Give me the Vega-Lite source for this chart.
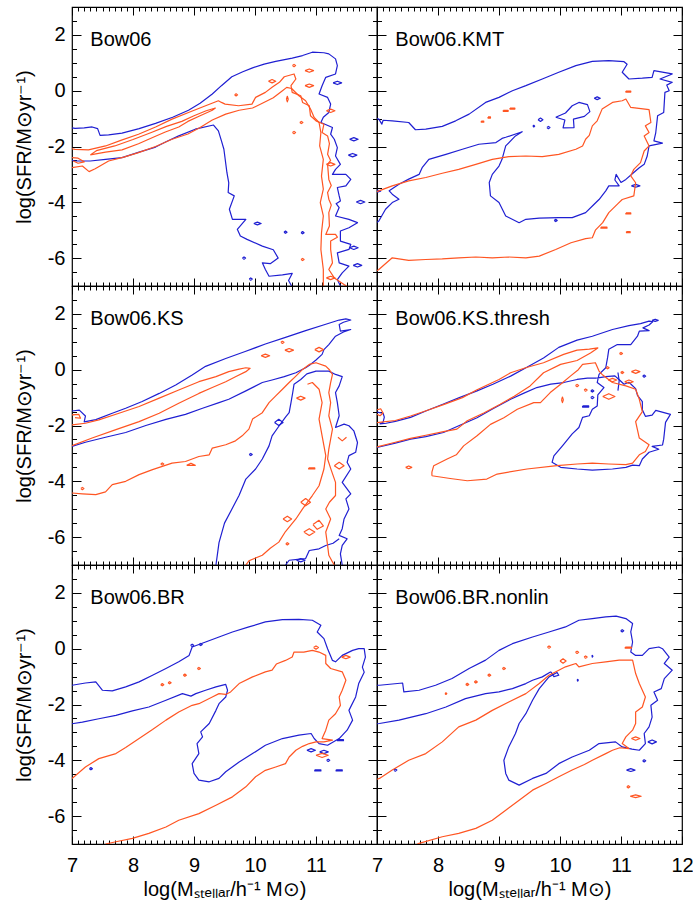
{
"$schema": "https://vega.github.io/schema/vega-lite/v6.json",
"padding": {"left": 13, "top": 5, "right": 0, "bottom": 0},
"columns": 2,
"spacing": 0,
"bounds": "flush",
"config": {
  "view": {"stroke": "#000", "strokeWidth": 1.2},
  "axis": {"grid": false, "domain": false, "ticks": true, "tickColor": "#000", "tickWidth": 1, "labelFont": "Liberation Sans", "labelFontSize": 20, "labelColor": "#000", "labelFlush": false, "titleFont": "Liberation Sans", "titleFontSize": 20, "titleFontWeight": "normal", "titleColor": "#000"}
},
"datasets": {
"p1b": [
{"s":1,"x":7.0,"y":-1.33},{"s":1,"x":7.05,"y":-1.35},{"s":1,"x":7.2,"y":-1.33},{"s":1,"x":7.33,"y":-1.3},{"s":1,"x":7.42,"y":-1.36},{"s":1,"x":7.46,"y":-1.6},{"s":1,"x":7.6,"y":-1.58},{"s":1,"x":7.82,"y":-1.52},{"s":1,"x":8.1,"y":-1.36},{"s":1,"x":8.37,"y":-1.17},{"s":1,"x":8.65,"y":-0.95},{"s":1,"x":8.91,"y":-0.7},{"s":1,"x":9.1,"y":-0.45},{"s":1,"x":9.3,"y":-0.12},{"s":1,"x":9.45,"y":0.18},{"s":1,"x":9.62,"y":0.5},{"s":1,"x":9.8,"y":0.68},{"s":1,"x":9.96,"y":0.82},{"s":1,"x":10.15,"y":0.95},{"s":1,"x":10.34,"y":1.05},{"s":1,"x":10.61,"y":1.17},{"s":1,"x":10.78,"y":1.26},{"s":1,"x":10.94,"y":1.38},{"s":1,"x":11.13,"y":1.36},{"s":1,"x":11.21,"y":1.32},{"s":1,"x":11.32,"y":1.14},{"s":1,"x":11.35,"y":0.9},{"s":1,"x":11.32,"y":0.6},{"s":1,"x":11.16,"y":0.48},{"s":1,"x":11.1,"y":0.18},{"s":1,"x":11.05,"y":-0.12},{"s":1,"x":11.19,"y":-0.24},{"s":1,"x":11.24,"y":-0.48},{"s":1,"x":11.21,"y":-0.78},{"s":1,"x":11.12,"y":-0.95},{"s":1,"x":11.08,"y":-1.14},{"s":1,"x":11.27,"y":-1.32},{"s":1,"x":11.24,"y":-1.56},{"s":1,"x":11.3,"y":-1.74},{"s":1,"x":11.35,"y":-2.04},{"s":1,"x":11.32,"y":-2.34},{"s":1,"x":11.4,"y":-2.64},{"s":1,"x":11.32,"y":-2.82},{"s":1,"x":11.27,"y":-3.0},{"s":1,"x":11.49,"y":-3.0},{"s":1,"x":11.57,"y":-3.18},{"s":1,"x":11.49,"y":-3.41},{"s":1,"x":11.35,"y":-3.47},{"s":1,"x":11.38,"y":-3.77},{"s":1,"x":11.4,"y":-3.95},{"s":1,"x":11.33,"y":-4.05},{"s":1,"x":11.38,"y":-4.19},{"s":1,"x":11.32,"y":-4.49},{"s":1,"x":11.54,"y":-4.61},{"s":1,"x":11.68,"y":-4.73},{"s":1,"x":11.54,"y":-4.91},{"s":1,"x":11.4,"y":-5.03},{"s":1,"x":11.4,"y":-5.39},{"s":1,"x":11.57,"y":-5.51},{"s":1,"x":11.54,"y":-5.69},{"s":1,"x":11.35,"y":-5.81},{"s":1,"x":11.38,"y":-6.17},{"s":1,"x":11.54,"y":-6.29},{"s":1,"x":11.43,"y":-6.53},{"s":1,"x":11.35,"y":-6.77},{"s":1,"x":11.4,"y":-7.0},
{"s":2,"x":7.0,"y":-2.5},{"s":2,"x":7.05,"y":-2.52},{"s":2,"x":7.3,"y":-2.52},{"s":2,"x":7.55,"y":-2.46},{"s":2,"x":7.82,"y":-2.4},{"s":2,"x":8.1,"y":-2.2},{"s":2,"x":8.37,"y":-2.02},{"s":2,"x":8.55,"y":-1.82},{"s":2,"x":8.75,"y":-1.62},{"s":2,"x":9.02,"y":-1.38},{"s":2,"x":9.32,"y":-1.23},{"s":2,"x":9.4,"y":-1.44},{"s":2,"x":9.45,"y":-1.8},{"s":2,"x":9.49,"y":-2.1},{"s":2,"x":9.54,"y":-2.94},{"s":2,"x":9.57,"y":-3.3},{"s":2,"x":9.56,"y":-3.65},{"s":2,"x":9.66,"y":-3.77},{"s":2,"x":9.58,"y":-4.25},{"s":2,"x":9.63,"y":-4.61},{"s":2,"x":9.85,"y":-4.61},{"s":2,"x":9.71,"y":-4.97},{"s":2,"x":9.76,"y":-5.21},{"s":2,"x":9.87,"y":-5.33},{"s":2,"x":10.12,"y":-5.57},{"s":2,"x":10.3,"y":-5.7},{"s":2,"x":10.38,"y":-6.0},{"s":2,"x":10.25,"y":-6.2},{"s":2,"x":10.12,"y":-6.17},{"s":2,"x":10.17,"y":-6.41},{"s":2,"x":10.23,"y":-6.65},{"s":2,"x":10.45,"y":-6.6},{"s":2,"x":10.61,"y":-6.55},{"s":2,"x":10.55,"y":-6.8},{"s":2,"x":10.6,"y":-7.0},
{"s":3,"x":9.98,"y":-4.76},{"s":3,"x":10.04,"y":-4.71},{"s":3,"x":10.1,"y":-4.76},{"s":3,"x":10.04,"y":-4.81},{"s":3,"x":9.98,"y":-4.76},
{"s":4,"x":10.475,"y":-5.07},{"s":4,"x":10.5,"y":-5.03},{"s":4,"x":10.525,"y":-5.07},{"s":4,"x":10.5,"y":-5.11},{"s":4,"x":10.475,"y":-5.07},
{"s":5,"x":10.755,"y":-5.09},{"s":5,"x":10.78,"y":-5.05},{"s":5,"x":10.805,"y":-5.09},{"s":5,"x":10.78,"y":-5.13},{"s":5,"x":10.755,"y":-5.09},
{"s":6,"x":9.795,"y":-6.0},{"s":6,"x":9.82,"y":-5.96},{"s":6,"x":9.845,"y":-6.0},{"s":6,"x":9.82,"y":-6.04},{"s":6,"x":9.795,"y":-6.0},
{"s":7,"x":9.905,"y":-6.75},{"s":7,"x":9.93,"y":-6.71},{"s":7,"x":9.955,"y":-6.75},{"s":7,"x":9.93,"y":-6.79},{"s":7,"x":9.905,"y":-6.75},
{"s":8,"x":11.28,"y":0.28},{"s":8,"x":11.35,"y":0.34},{"s":8,"x":11.42,"y":0.28},{"s":8,"x":11.35,"y":0.22},{"s":8,"x":11.28,"y":0.28},
{"s":9,"x":11.55,"y":-1.74},{"s":9,"x":11.62,"y":-1.68},{"s":9,"x":11.69,"y":-1.74},{"s":9,"x":11.62,"y":-1.8},{"s":9,"x":11.55,"y":-1.74},
{"s":10,"x":11.53,"y":-2.31},{"s":10,"x":11.6,"y":-2.25},{"s":10,"x":11.67,"y":-2.31},{"s":10,"x":11.6,"y":-2.37},{"s":10,"x":11.53,"y":-2.31},
{"s":11,"x":11.66,"y":-3.99},{"s":11,"x":11.73,"y":-3.93},{"s":11,"x":11.8,"y":-3.99},{"s":11,"x":11.73,"y":-4.05},{"s":11,"x":11.66,"y":-3.99},
{"s":12,"x":11.55,"y":-5.63},{"s":12,"x":11.62,"y":-5.57},{"s":12,"x":11.69,"y":-5.63},{"s":12,"x":11.62,"y":-5.69},{"s":12,"x":11.55,"y":-5.63},
{"s":13,"x":11.61,"y":-6.26},{"s":13,"x":11.68,"y":-6.2},{"s":13,"x":11.75,"y":-6.26},{"s":13,"x":11.68,"y":-6.32},{"s":13,"x":11.61,"y":-6.26}
],
"p1o": [
{"s":1,"x":7.0,"y":-2.08},{"s":1,"x":7.05,"y":-2.1},{"s":1,"x":7.27,"y":-2.12},{"s":1,"x":7.55,"y":-1.98},{"s":1,"x":7.8,"y":-1.78},{"s":1,"x":8.09,"y":-1.56},{"s":1,"x":8.37,"y":-1.3},{"s":1,"x":8.64,"y":-1.02},{"s":1,"x":8.91,"y":-0.78},{"s":1,"x":9.19,"y":-0.54},{"s":1,"x":9.4,"y":-0.36},{"s":1,"x":9.45,"y":-0.42},{"s":1,"x":9.51,"y":-0.48},{"s":1,"x":9.73,"y":-0.54},{"s":1,"x":9.95,"y":-0.48},{"s":1,"x":10.01,"y":-0.24},{"s":1,"x":10.17,"y":-0.06},{"s":1,"x":10.28,"y":0.12},{"s":1,"x":10.4,"y":0.3},{"s":1,"x":10.48,"y":0.5},{"s":1,"x":10.64,"y":0.6},{"s":1,"x":10.67,"y":0.42},{"s":1,"x":10.59,"y":0.18},{"s":1,"x":10.61,"y":-0.06},{"s":1,"x":10.75,"y":-0.18},{"s":1,"x":10.78,"y":-0.42},{"s":1,"x":10.89,"y":-0.54},{"s":1,"x":10.91,"y":-0.9},{"s":1,"x":11.0,"y":-1.08},{"s":1,"x":11.13,"y":-1.2},{"s":1,"x":11.1,"y":-1.5},{"s":1,"x":11.19,"y":-1.62},{"s":1,"x":11.22,"y":-1.9},{"s":1,"x":11.19,"y":-2.28},{"s":1,"x":11.24,"y":-2.5},{"s":1,"x":11.19,"y":-2.64},{"s":1,"x":11.21,"y":-3.18},{"s":1,"x":11.25,"y":-3.4},{"s":1,"x":11.19,"y":-3.65},{"s":1,"x":11.21,"y":-3.89},{"s":1,"x":11.25,"y":-4.1},{"s":1,"x":11.21,"y":-4.37},{"s":1,"x":11.22,"y":-4.85},{"s":1,"x":11.16,"y":-5.15},{"s":1,"x":11.32,"y":-5.15},{"s":1,"x":11.35,"y":-5.25},{"s":1,"x":11.24,"y":-5.39},{"s":1,"x":11.24,"y":-5.69},{"s":1,"x":11.27,"y":-6.17},{"s":1,"x":11.21,"y":-6.41},{"s":1,"x":11.3,"y":-6.71},{"s":1,"x":11.46,"y":-6.95},{"s":1,"x":11.5,"y":-7.0},
{"s":2,"x":7.0,"y":-2.76},{"s":2,"x":7.17,"y":-2.7},{"s":2,"x":7.28,"y":-2.9},{"s":2,"x":7.38,"y":-2.8},{"s":2,"x":7.6,"y":-2.52},{"s":2,"x":7.85,"y":-2.38},{"s":2,"x":8.09,"y":-2.22},{"s":2,"x":8.37,"y":-2.0},{"s":2,"x":8.64,"y":-1.74},{"s":2,"x":8.9,"y":-1.55},{"s":2,"x":9.1,"y":-1.32},{"s":2,"x":9.3,"y":-1.05},{"s":2,"x":9.52,"y":-0.84},{"s":2,"x":9.74,"y":-0.7},{"s":2,"x":9.96,"y":-0.62},{"s":2,"x":10.12,"y":-0.45},{"s":2,"x":10.3,"y":-0.25},{"s":2,"x":10.45,"y":0.0},{"s":2,"x":10.52,"y":0.12},{"s":2,"x":10.6,"y":0.08},{"s":2,"x":10.72,"y":-0.18},{"s":2,"x":10.83,"y":-0.36},{"s":2,"x":10.91,"y":-0.66},{"s":2,"x":10.97,"y":-0.96},{"s":2,"x":11.05,"y":-1.14},{"s":2,"x":11.08,"y":-1.5},{"s":2,"x":11.06,"y":-1.98},{"s":2,"x":11.12,"y":-2.46},{"s":2,"x":11.09,"y":-3.06},{"s":2,"x":11.12,"y":-3.53},{"s":2,"x":11.07,"y":-4.01},{"s":2,"x":11.12,"y":-4.49},{"s":2,"x":11.09,"y":-5.09},{"s":2,"x":11.08,"y":-5.69},{"s":2,"x":11.12,"y":-6.41},{"s":2,"x":11.12,"y":-7.0},
{"s":3,"x":7.3,"y":-2.3},{"s":3,"x":7.55,"y":-2.2},{"s":3,"x":7.82,"y":-2.12},{"s":3,"x":8.09,"y":-1.9},{"s":3,"x":8.35,"y":-1.65},{"s":3,"x":8.53,"y":-1.48},{"s":3,"x":8.75,"y":-1.3},{"s":3,"x":8.9,"y":-1.1},{"s":3,"x":9.1,"y":-0.9},{"s":3,"x":9.3,"y":-0.7},{"s":3,"x":9.35,"y":-0.62},{"s":3,"x":9.2,"y":-0.72},{"s":3,"x":9.0,"y":-0.9},{"s":3,"x":8.8,"y":-1.1},{"s":3,"x":8.55,"y":-1.28},{"s":3,"x":8.3,"y":-1.5},{"s":3,"x":8.0,"y":-1.75},{"s":3,"x":7.7,"y":-1.98},{"s":3,"x":7.4,"y":-2.15},{"s":3,"x":7.3,"y":-2.3},
{"s":4,"x":7.0,"y":-2.4},{"s":4,"x":7.1,"y":-2.42},{"s":4,"x":7.2,"y":-2.55},{"s":4,"x":7.1,"y":-2.6},{"s":4,"x":7.02,"y":-2.52},
{"s":5,"x":10.615,"y":0.9},{"s":5,"x":10.64,"y":0.94},{"s":5,"x":10.665,"y":0.9},{"s":5,"x":10.64,"y":0.86},{"s":5,"x":10.615,"y":0.9},
{"s":6,"x":10.82,"y":0.72},{"s":6,"x":10.89,"y":0.78},{"s":6,"x":10.96,"y":0.72},{"s":6,"x":10.89,"y":0.66},{"s":6,"x":10.82,"y":0.72},
{"s":7,"x":10.82,"y":0.18},{"s":7,"x":10.89,"y":0.24},{"s":7,"x":10.96,"y":0.18},{"s":7,"x":10.89,"y":0.12},{"s":7,"x":10.82,"y":0.18},
{"s":8,"x":10.22,"y":0.34},{"s":8,"x":10.28,"y":0.4},{"s":8,"x":10.34,"y":0.34},{"s":8,"x":10.28,"y":0.28},{"s":8,"x":10.22,"y":0.34},
{"s":9,"x":10.515,"y":-0.3},{"s":9,"x":10.53,"y":-0.2},{"s":9,"x":10.545,"y":-0.3},{"s":9,"x":10.53,"y":-0.4},{"s":9,"x":10.515,"y":-0.3},
{"s":10,"x":10.735,"y":-1.14},{"s":10,"x":10.76,"y":-1.1},{"s":10,"x":10.785,"y":-1.14},{"s":10,"x":10.76,"y":-1.18},{"s":10,"x":10.735,"y":-1.14},
{"s":11,"x":10.615,"y":-1.5},{"s":11,"x":10.64,"y":-1.46},{"s":11,"x":10.665,"y":-1.5},{"s":11,"x":10.64,"y":-1.54},{"s":11,"x":10.615,"y":-1.5},
{"s":12,"x":11.17,"y":-0.72},{"s":12,"x":11.24,"y":-0.66},{"s":12,"x":11.31,"y":-0.72},{"s":12,"x":11.24,"y":-0.78},{"s":12,"x":11.17,"y":-0.72},
{"s":13,"x":11.17,"y":-2.64},{"s":13,"x":11.24,"y":-2.58},{"s":13,"x":11.31,"y":-2.64},{"s":13,"x":11.24,"y":-2.7},{"s":13,"x":11.17,"y":-2.64},
{"s":14,"x":11.17,"y":-6.71},{"s":14,"x":11.24,"y":-6.65},{"s":14,"x":11.31,"y":-6.71},{"s":14,"x":11.24,"y":-6.77},{"s":14,"x":11.17,"y":-6.71},
{"s":15,"x":10.755,"y":-6.05},{"s":15,"x":10.78,"y":-6.01},{"s":15,"x":10.805,"y":-6.05},{"s":15,"x":10.78,"y":-6.09},{"s":15,"x":10.755,"y":-6.05},
{"s":16,"x":9.665,"y":-0.15},{"s":16,"x":9.69,"y":-0.11},{"s":16,"x":9.715,"y":-0.15},{"s":16,"x":9.69,"y":-0.19},{"s":16,"x":9.665,"y":-0.15}
],
"p2b": [
{"s":1,"x":7.0,"y":-1.0},{"s":1,"x":7.03,"y":-1.02},{"s":1,"x":7.08,"y":-1.2},{"s":1,"x":7.1,"y":-1.06},{"s":1,"x":7.25,"y":-1.08},{"s":1,"x":7.52,"y":-1.14},{"s":1,"x":7.63,"y":-1.4},{"s":1,"x":7.8,"y":-1.38},{"s":1,"x":8.07,"y":-1.28},{"s":1,"x":8.29,"y":-1.08},{"s":1,"x":8.51,"y":-0.84},{"s":1,"x":8.78,"y":-0.42},{"s":1,"x":9.0,"y":-0.24},{"s":1,"x":9.22,"y":0.0},{"s":1,"x":9.44,"y":0.18},{"s":1,"x":9.71,"y":0.42},{"s":1,"x":9.98,"y":0.66},{"s":1,"x":10.26,"y":0.9},{"s":1,"x":10.53,"y":1.05},{"s":1,"x":10.8,"y":1.08},{"s":1,"x":11.05,"y":1.04},{"s":1,"x":11.1,"y":0.95},{"s":1,"x":11.02,"y":0.66},{"s":1,"x":11.13,"y":0.42},{"s":1,"x":11.35,"y":0.45},{"s":1,"x":11.51,"y":0.48},{"s":1,"x":11.54,"y":0.72},{"s":1,"x":11.84,"y":0.6},{"s":1,"x":11.64,"y":0.42},{"s":1,"x":11.84,"y":0.3},{"s":1,"x":11.75,"y":0.2},{"s":1,"x":11.79,"y":0.0},{"s":1,"x":11.72,"y":-0.06},{"s":1,"x":11.7,"y":-0.78},{"s":1,"x":11.6,"y":-0.9},{"s":1,"x":11.57,"y":-1.5},{"s":1,"x":11.54,"y":-1.8},{"s":1,"x":11.68,"y":-1.88},{"s":1,"x":11.46,"y":-1.98},{"s":1,"x":11.43,"y":-2.34},{"s":1,"x":11.38,"y":-2.64},{"s":1,"x":11.3,"y":-2.76},{"s":1,"x":11.2,"y":-2.95},{"s":1,"x":11.08,"y":-3.18},{"s":1,"x":11.0,"y":-3.29},{"s":1,"x":10.92,"y":-3.0},{"s":1,"x":10.9,"y":-3.2},{"s":1,"x":10.97,"y":-3.41},{"s":1,"x":10.8,"y":-3.41},{"s":1,"x":10.75,"y":-3.59},{"s":1,"x":10.64,"y":-3.9},{"s":1,"x":10.56,"y":-4.07},{"s":1,"x":10.42,"y":-4.37},{"s":1,"x":10.2,"y":-4.55},{"s":1,"x":9.98,"y":-4.55},{"s":1,"x":9.66,"y":-4.57},{"s":1,"x":9.44,"y":-4.61},{"s":1,"x":9.33,"y":-4.73},{"s":1,"x":9.11,"y":-4.49},{"s":1,"x":9.0,"y":-4.01},{"s":1,"x":8.86,"y":-3.77},{"s":1,"x":8.84,"y":-3.29},{"s":1,"x":8.89,"y":-3.0},{"s":1,"x":9.0,"y":-2.7},{"s":1,"x":9.05,"y":-2.46},{"s":1,"x":9.11,"y":-1.98},{"s":1,"x":9.27,"y":-1.62},{"s":1,"x":9.38,"y":-1.47},{"s":1,"x":9.11,"y":-1.67},{"s":1,"x":9.05,"y":-1.71},{"s":1,"x":8.95,"y":-1.86},{"s":1,"x":8.67,"y":-1.92},{"s":1,"x":8.4,"y":-2.1},{"s":1,"x":8.13,"y":-2.28},{"s":1,"x":7.85,"y":-2.46},{"s":1,"x":7.74,"y":-2.76},{"s":1,"x":7.69,"y":-3.0},{"s":1,"x":7.52,"y":-3.17},{"s":1,"x":7.36,"y":-3.35},{"s":1,"x":7.2,"y":-3.59},{"s":1,"x":7.25,"y":-3.71},{"s":1,"x":7.36,"y":-3.89},{"s":1,"x":7.25,"y":-4.01},{"s":1,"x":7.14,"y":-4.25},{"s":1,"x":7.03,"y":-4.67},{"s":1,"x":7.0,"y":-4.72},
{"s":2,"x":9.93,"y":-0.95},{"s":2,"x":10.09,"y":-0.8},{"s":2,"x":10.2,"y":-0.54},{"s":2,"x":10.31,"y":-0.42},{"s":2,"x":10.45,"y":-0.5},{"s":2,"x":10.49,"y":-0.75},{"s":2,"x":10.4,"y":-0.92},{"s":2,"x":10.22,"y":-1.02},{"s":2,"x":10.23,"y":-1.32},{"s":2,"x":10.05,"y":-1.33},{"s":2,"x":10.08,"y":-1.05},{"s":2,"x":9.93,"y":-0.95},
{"s":3,"x":10.56,"y":-0.27},{"s":3,"x":10.61,"y":-0.22},{"s":3,"x":10.66,"y":-0.27},{"s":3,"x":10.61,"y":-0.32},{"s":3,"x":10.56,"y":-0.27},
{"s":4,"x":9.64,"y":-1.04},{"s":4,"x":9.68,"y":-0.98},{"s":4,"x":9.72,"y":-1.04},{"s":4,"x":9.68,"y":-1.1},{"s":4,"x":9.64,"y":-1.04},
{"s":5,"x":9.785,"y":-1.32},{"s":5,"x":9.81,"y":-1.28},{"s":5,"x":9.835,"y":-1.32},{"s":5,"x":9.81,"y":-1.36},{"s":5,"x":9.785,"y":-1.32},
{"s":6,"x":9.555,"y":-1.27},{"s":6,"x":9.57,"y":-1.24},{"s":6,"x":9.585,"y":-1.27},{"s":6,"x":9.57,"y":-1.3},{"s":6,"x":9.555,"y":-1.27},
{"s":7,"x":9.905,"y":-4.65},{"s":7,"x":9.93,"y":-4.61},{"s":7,"x":9.955,"y":-4.65},{"s":7,"x":9.93,"y":-4.69},{"s":7,"x":9.905,"y":-4.65},
{"s":8,"x":11.17,"y":-3.41},{"s":8,"x":11.24,"y":-3.36},{"s":8,"x":11.31,"y":-3.41},{"s":8,"x":11.24,"y":-3.46},{"s":8,"x":11.17,"y":-3.41},
{"s":9,"x":7.0,"y":-3.56},{"s":9,"x":7.06,"y":-3.6},{"s":9,"x":7.0,"y":-3.64}
],
"p2o": [
{"s":1,"x":7.0,"y":-3.62},{"s":1,"x":7.03,"y":-3.59},{"s":1,"x":7.25,"y":-3.41},{"s":1,"x":7.52,"y":-3.23},{"s":1,"x":7.8,"y":-3.11},{"s":1,"x":8.07,"y":-2.96},{"s":1,"x":8.34,"y":-2.82},{"s":1,"x":8.62,"y":-2.64},{"s":1,"x":8.89,"y":-2.46},{"s":1,"x":9.16,"y":-2.36},{"s":1,"x":9.44,"y":-2.34},{"s":1,"x":9.71,"y":-2.36},{"s":1,"x":9.98,"y":-2.28},{"s":1,"x":10.26,"y":-2.1},{"s":1,"x":10.37,"y":-1.98},{"s":1,"x":10.42,"y":-1.74},{"s":1,"x":10.48,"y":-1.6},{"s":1,"x":10.53,"y":-1.26},{"s":1,"x":10.61,"y":-1.08},{"s":1,"x":10.69,"y":-0.66},{"s":1,"x":10.86,"y":-0.42},{"s":1,"x":11.02,"y":-0.36},{"s":1,"x":11.08,"y":-0.3},{"s":1,"x":11.16,"y":-0.6},{"s":1,"x":11.46,"y":-0.68},{"s":1,"x":11.49,"y":-1.14},{"s":1,"x":11.4,"y":-1.26},{"s":1,"x":11.46,"y":-1.5},{"s":1,"x":11.38,"y":-1.62},{"s":1,"x":11.46,"y":-1.98},{"s":1,"x":11.38,"y":-2.16},{"s":1,"x":11.32,"y":-2.58},{"s":1,"x":11.21,"y":-2.82},{"s":1,"x":11.16,"y":-3.05},{"s":1,"x":11.24,"y":-3.3},{"s":1,"x":11.21,"y":-3.77},{"s":1,"x":11.02,"y":-3.9},{"s":1,"x":10.95,"y":-4.05},{"s":1,"x":10.8,"y":-4.37},{"s":1,"x":10.7,"y":-4.73},{"s":1,"x":10.58,"y":-5.0},{"s":1,"x":10.53,"y":-5.27},{"s":1,"x":10.42,"y":-5.3},{"s":1,"x":10.18,"y":-5.45},{"s":1,"x":9.93,"y":-5.69},{"s":1,"x":9.66,"y":-5.93},{"s":1,"x":9.44,"y":-5.99},{"s":1,"x":9.16,"y":-5.96},{"s":1,"x":8.89,"y":-5.99},{"s":1,"x":8.62,"y":-5.96},{"s":1,"x":8.34,"y":-5.99},{"s":1,"x":8.07,"y":-6.03},{"s":1,"x":7.8,"y":-6.05},{"s":1,"x":7.52,"y":-6.08},{"s":1,"x":7.25,"y":-5.99},{"s":1,"x":7.03,"y":-6.41},{"s":1,"x":7.0,"y":-6.45},
{"s":2,"x":9.07,"y":-0.7},{"s":2,"x":9.15,"y":-0.7},{"s":2,"x":9.15,"y":-0.74},{"s":2,"x":9.07,"y":-0.74},{"s":2,"x":9.07,"y":-0.7},
{"s":3,"x":9.18,"y":-0.62},{"s":3,"x":9.26,"y":-0.62},{"s":3,"x":9.26,"y":-0.66},{"s":3,"x":9.18,"y":-0.66},{"s":3,"x":9.18,"y":-0.62},
{"s":4,"x":8.82,"y":-0.94},{"s":4,"x":8.86,"y":-0.94},{"s":4,"x":8.86,"y":-0.98},{"s":4,"x":8.82,"y":-0.98},{"s":4,"x":8.82,"y":-0.94},
{"s":5,"x":8.71,"y":-1.09},{"s":5,"x":8.75,"y":-1.09},{"s":5,"x":8.75,"y":-1.13},{"s":5,"x":8.71,"y":-1.13},{"s":5,"x":8.71,"y":-1.09},
{"s":6,"x":11.08,"y":-0.01},{"s":6,"x":11.16,"y":-0.01},{"s":6,"x":11.16,"y":-0.05},{"s":6,"x":11.08,"y":-0.05},{"s":6,"x":11.08,"y":-0.01},
{"s":7,"x":11.08,"y":-4.38},{"s":7,"x":11.16,"y":-4.38},{"s":7,"x":11.16,"y":-4.42},{"s":7,"x":11.08,"y":-4.42},{"s":7,"x":11.08,"y":-4.38},
{"s":8,"x":10.67,"y":-4.89},{"s":8,"x":10.77,"y":-4.89},{"s":8,"x":10.77,"y":-4.93},{"s":8,"x":10.67,"y":-4.93},{"s":8,"x":10.67,"y":-4.89},
{"s":9,"x":11.09,"y":-5.05},{"s":9,"x":11.15,"y":-5.05},{"s":9,"x":11.15,"y":-5.09},{"s":9,"x":11.09,"y":-5.09},{"s":9,"x":11.09,"y":-5.05}
],
"p3b": [
{"s":1,"x":7.0,"y":-1.48},{"s":1,"x":7.12,"y":-1.45},{"s":1,"x":7.22,"y":-1.66},{"s":1,"x":7.2,"y":-1.87},{"s":1,"x":7.39,"y":-1.79},{"s":1,"x":7.66,"y":-1.56},{"s":1,"x":7.88,"y":-1.38},{"s":1,"x":8.15,"y":-1.14},{"s":1,"x":8.43,"y":-0.85},{"s":1,"x":8.7,"y":-0.55},{"s":1,"x":8.97,"y":-0.19},{"s":1,"x":9.19,"y":0.12},{"s":1,"x":9.52,"y":0.4},{"s":1,"x":9.85,"y":0.66},{"s":1,"x":10.17,"y":0.92},{"s":1,"x":10.5,"y":1.16},{"s":1,"x":10.83,"y":1.4},{"s":1,"x":11.16,"y":1.63},{"s":1,"x":11.38,"y":1.78},{"s":1,"x":11.49,"y":1.82},{"s":1,"x":11.57,"y":1.78},{"s":1,"x":11.45,"y":1.7},{"s":1,"x":11.38,"y":1.62},{"s":1,"x":11.4,"y":1.38},{"s":1,"x":11.57,"y":1.44},{"s":1,"x":11.45,"y":1.35},{"s":1,"x":11.32,"y":1.2},{"s":1,"x":11.21,"y":0.9},{"s":1,"x":11.13,"y":0.72},{"s":1,"x":11.1,"y":0.55},{"s":1,"x":11.0,"y":0.35},{"s":1,"x":10.91,"y":0.19},{"s":1,"x":10.83,"y":0.07},{"s":1,"x":10.67,"y":-0.11},{"s":1,"x":10.48,"y":-0.25},{"s":1,"x":10.28,"y":-0.37},{"s":1,"x":10.12,"y":-0.46},{"s":1,"x":9.85,"y":-0.76},{"s":1,"x":9.57,"y":-1.06},{"s":1,"x":9.41,"y":-1.18},{"s":1,"x":9.14,"y":-1.38},{"s":1,"x":8.86,"y":-1.6},{"s":1,"x":8.54,"y":-1.78},{"s":1,"x":8.21,"y":-2.0},{"s":1,"x":7.88,"y":-2.25},{"s":1,"x":7.55,"y":-2.42},{"s":1,"x":7.22,"y":-2.6},{"s":1,"x":7.0,"y":-2.75},
{"s":2,"x":9.36,"y":-7.0},{"s":2,"x":9.41,"y":-6.2},{"s":2,"x":9.5,"y":-5.5},{"s":2,"x":9.62,"y":-5.0},{"s":2,"x":9.74,"y":-4.5},{"s":2,"x":9.85,"y":-3.92},{"s":2,"x":10.01,"y":-3.56},{"s":2,"x":10.12,"y":-3.2},{"s":2,"x":10.23,"y":-2.73},{"s":2,"x":10.28,"y":-2.37},{"s":2,"x":10.4,"y":-2.0},{"s":2,"x":10.5,"y":-1.7},{"s":2,"x":10.56,"y":-1.54},{"s":2,"x":10.59,"y":-1.18},{"s":2,"x":10.62,"y":-0.8},{"s":2,"x":10.64,"y":-0.52},{"s":2,"x":10.75,"y":-0.35},{"s":2,"x":10.85,"y":-0.15},{"s":2,"x":11.0,"y":-0.05},{"s":2,"x":11.21,"y":-0.05},{"s":2,"x":11.32,"y":-0.17},{"s":2,"x":11.43,"y":-0.25},{"s":2,"x":11.38,"y":-0.58},{"s":2,"x":11.32,"y":-0.82},{"s":2,"x":11.35,"y":-1.18},{"s":2,"x":11.38,"y":-1.65},{"s":2,"x":11.32,"y":-2.07},{"s":2,"x":11.46,"y":-1.95},{"s":2,"x":11.54,"y":-2.01},{"s":2,"x":11.62,"y":-2.19},{"s":2,"x":11.68,"y":-2.61},{"s":2,"x":11.65,"y":-2.96},{"s":2,"x":11.54,"y":-3.08},{"s":2,"x":11.51,"y":-3.32},{"s":2,"x":11.57,"y":-3.56},{"s":2,"x":11.43,"y":-4.04},{"s":2,"x":11.57,"y":-4.45},{"s":2,"x":11.49,"y":-4.63},{"s":2,"x":11.54,"y":-4.99},{"s":2,"x":11.46,"y":-5.35},{"s":2,"x":11.43,"y":-5.7},{"s":2,"x":11.38,"y":-5.94},{"s":2,"x":11.51,"y":-6.06},{"s":2,"x":11.43,"y":-6.3},{"s":2,"x":11.4,"y":-6.6},{"s":2,"x":11.43,"y":-7.0},
{"s":3,"x":10.5,"y":-7.0},{"s":3,"x":10.56,"y":-6.83},{"s":3,"x":10.7,"y":-6.8},{"s":3,"x":10.83,"y":-6.77},{"s":3,"x":10.89,"y":-6.48},{"s":3,"x":11.05,"y":-6.42},{"s":3,"x":11.16,"y":-6.3},{"s":3,"x":11.28,"y":-6.22},{"s":3,"x":11.38,"y":-6.06},
{"s":4,"x":10.32,"y":-1.89},{"s":4,"x":10.39,"y":-1.78},{"s":4,"x":10.46,"y":-1.89},{"s":4,"x":10.39,"y":-2.0},{"s":4,"x":10.32,"y":-1.89},
{"s":5,"x":9.905,"y":-3.04},{"s":5,"x":9.93,"y":-3.0},{"s":5,"x":9.955,"y":-3.04},{"s":5,"x":9.93,"y":-3.08},{"s":5,"x":9.905,"y":-3.04},
{"s":6,"x":10.68,"y":-6.83},{"s":6,"x":10.75,"y":-6.77},{"s":6,"x":10.82,"y":-6.83},{"s":6,"x":10.75,"y":-6.89},{"s":6,"x":10.68,"y":-6.83}
],
"p3o": [
{"s":1,"x":7.0,"y":-1.98},{"s":1,"x":7.22,"y":-1.92},{"s":1,"x":7.44,"y":-1.8},{"s":1,"x":7.77,"y":-1.56},{"s":1,"x":8.1,"y":-1.32},{"s":1,"x":8.43,"y":-1.02},{"s":1,"x":8.75,"y":-0.73},{"s":1,"x":9.08,"y":-0.43},{"s":1,"x":9.36,"y":-0.25},{"s":1,"x":9.57,"y":-0.07},{"s":1,"x":9.74,"y":0.02},{"s":1,"x":9.85,"y":0.07},{"s":1,"x":9.92,"y":0.05},{"s":1,"x":9.85,"y":-0.07},{"s":1,"x":9.68,"y":-0.25},{"s":1,"x":9.52,"y":-0.43},{"s":1,"x":9.3,"y":-0.64},{"s":1,"x":9.08,"y":-0.85},{"s":1,"x":8.75,"y":-1.2},{"s":1,"x":8.43,"y":-1.56},{"s":1,"x":8.1,"y":-1.86},{"s":1,"x":7.72,"y":-2.15},{"s":1,"x":7.33,"y":-2.45},{"s":1,"x":7.0,"y":-2.72},
{"s":2,"x":7.0,"y":-4.42},{"s":2,"x":7.17,"y":-4.45},{"s":2,"x":7.39,"y":-4.48},{"s":2,"x":7.55,"y":-4.38},{"s":2,"x":7.66,"y":-4.12},{"s":2,"x":7.88,"y":-4.0},{"s":2,"x":8.1,"y":-3.76},{"s":2,"x":8.32,"y":-3.58},{"s":2,"x":8.64,"y":-3.35},{"s":2,"x":8.86,"y":-3.29},{"s":2,"x":9.08,"y":-3.11},{"s":2,"x":9.25,"y":-3.05},{"s":2,"x":9.3,"y":-2.81},{"s":2,"x":9.52,"y":-2.69},{"s":2,"x":9.68,"y":-2.55},{"s":2,"x":9.79,"y":-2.37},{"s":2,"x":9.9,"y":-2.13},{"s":2,"x":9.96,"y":-1.77},{"s":2,"x":10.12,"y":-1.54},{"s":2,"x":10.23,"y":-1.18},{"s":2,"x":10.34,"y":-0.94},{"s":2,"x":10.45,"y":-0.7},{"s":2,"x":10.56,"y":-0.46},{"s":2,"x":10.67,"y":-0.23},{"s":2,"x":10.78,"y":0.01},{"s":2,"x":10.89,"y":0.19},{"s":2,"x":11.0,"y":0.25},{"s":2,"x":11.16,"y":0.13},{"s":2,"x":11.22,"y":0.0},{"s":2,"x":11.27,"y":-0.17},{"s":2,"x":11.24,"y":-0.46},{"s":2,"x":11.21,"y":-0.82},{"s":2,"x":11.24,"y":-1.18},{"s":2,"x":11.21,"y":-1.65},{"s":2,"x":11.27,"y":-2.13},{"s":2,"x":11.24,"y":-2.49},{"s":2,"x":11.21,"y":-2.85},{"s":2,"x":11.19,"y":-3.2},{"s":2,"x":11.25,"y":-3.6},{"s":2,"x":11.32,"y":-4.04},{"s":2,"x":11.32,"y":-4.51},{"s":2,"x":11.22,"y":-4.75},{"s":2,"x":11.16,"y":-4.99},{"s":2,"x":11.24,"y":-5.35},{"s":2,"x":11.16,"y":-5.82},{"s":2,"x":11.19,"y":-6.3},{"s":2,"x":11.21,"y":-6.65},{"s":2,"x":11.27,"y":-6.89},{"s":2,"x":11.3,"y":-7.0},
{"s":3,"x":9.85,"y":-7.0},{"s":3,"x":9.9,"y":-6.85},{"s":3,"x":10.12,"y":-6.65},{"s":3,"x":10.25,"y":-6.4},{"s":3,"x":10.39,"y":-6.18},{"s":3,"x":10.5,"y":-5.8},{"s":3,"x":10.67,"y":-5.35},{"s":3,"x":10.78,"y":-4.99},{"s":3,"x":10.94,"y":-4.51},{"s":3,"x":11.05,"y":-4.16},{"s":3,"x":11.13,"y":-3.56},{"s":3,"x":11.16,"y":-3.08},{"s":3,"x":11.1,"y":-2.37},{"s":3,"x":11.05,"y":-1.77},{"s":3,"x":11.1,"y":-1.18},{"s":3,"x":11.05,"y":-0.7},{"s":3,"x":10.94,"y":-0.46},{"s":3,"x":10.86,"y":-0.52},
{"s":4,"x":7.0,"y":-1.62},{"s":4,"x":7.11,"y":-1.6},{"s":4,"x":7.14,"y":-1.74},{"s":4,"x":7.05,"y":-1.72},
{"s":5,"x":10.1,"y":0.5},{"s":5,"x":10.17,"y":0.56},{"s":5,"x":10.24,"y":0.5},{"s":5,"x":10.17,"y":0.44},{"s":5,"x":10.1,"y":0.5},
{"s":6,"x":10.49,"y":0.7},{"s":6,"x":10.56,"y":0.76},{"s":6,"x":10.63,"y":0.7},{"s":6,"x":10.56,"y":0.64},{"s":6,"x":10.49,"y":0.7},
{"s":7,"x":10.98,"y":0.72},{"s":7,"x":11.05,"y":0.8},{"s":7,"x":11.12,"y":0.72},{"s":7,"x":11.05,"y":0.64},{"s":7,"x":10.98,"y":0.72},
{"s":8,"x":10.425,"y":0.98},{"s":8,"x":10.45,"y":1.02},{"s":8,"x":10.475,"y":0.98},{"s":8,"x":10.45,"y":0.94},{"s":8,"x":10.425,"y":0.98},
{"s":9,"x":10.75,"y":-4.75},{"s":9,"x":10.83,"y":-4.62},{"s":9,"x":10.91,"y":-4.75},{"s":9,"x":10.83,"y":-4.88},{"s":9,"x":10.75,"y":-4.75},
{"s":10,"x":10.46,"y":-5.35},{"s":10,"x":10.53,"y":-5.25},{"s":10,"x":10.6,"y":-5.35},{"s":10,"x":10.53,"y":-5.45},{"s":10,"x":10.46,"y":-5.35},
{"s":11,"x":10.8,"y":-5.82},{"s":11,"x":10.89,"y":-5.7},{"s":11,"x":10.98,"y":-5.82},{"s":11,"x":10.89,"y":-5.94},{"s":11,"x":10.8,"y":-5.82},
{"s":12,"x":11.3,"y":-3.44},{"s":12,"x":11.38,"y":-3.32},{"s":12,"x":11.46,"y":-3.44},{"s":12,"x":11.38,"y":-3.56},{"s":12,"x":11.3,"y":-3.44},
{"s":13,"x":11.36,"y":-2.42},{"s":13,"x":11.43,"y":-2.55},{"s":13,"x":11.5,"y":-2.42},
{"s":14,"x":10.88,"y":-3.52},{"s":14,"x":10.98,"y":-3.52},{"s":14,"x":10.98,"y":-3.56},{"s":14,"x":10.88,"y":-3.56},{"s":14,"x":10.88,"y":-3.52},
{"s":15,"x":10.505,"y":-6.24},{"s":15,"x":10.53,"y":-6.2},{"s":15,"x":10.555,"y":-6.24},{"s":15,"x":10.53,"y":-6.28},{"s":15,"x":10.505,"y":-6.24},
{"s":16,"x":8.455,"y":-3.38},{"s":16,"x":8.48,"y":-3.34},{"s":16,"x":8.505,"y":-3.38},{"s":16,"x":8.48,"y":-3.42},{"s":16,"x":8.455,"y":-3.38},
{"s":17,"x":8.88,"y":-3.43},{"s":17,"x":8.95,"y":-3.35},{"s":17,"x":9.02,"y":-3.43},{"s":17,"x":8.88,"y":-3.43},
{"s":18,"x":7.145,"y":-4.26},{"s":18,"x":7.17,"y":-4.22},{"s":18,"x":7.195,"y":-4.26},{"s":18,"x":7.17,"y":-4.3},{"s":18,"x":7.145,"y":-4.26},
{"s":19,"x":10.68,"y":-1.02},{"s":19,"x":10.75,"y":-0.95},{"s":19,"x":10.82,"y":-1.02},{"s":19,"x":10.75,"y":-1.09},{"s":19,"x":10.68,"y":-1.02},
{"s":20,"x":10.95,"y":-5.55},{"s":20,"x":11.05,"y":-5.4},{"s":20,"x":11.12,"y":-5.6},{"s":20,"x":11.02,"y":-5.72},{"s":20,"x":10.95,"y":-5.55}
],
"p4b": [
{"s":1,"x":7.0,"y":-1.52},{"s":1,"x":7.1,"y":-1.56},{"s":1,"x":7.12,"y":-1.7},{"s":1,"x":7.1,"y":-1.88},{"s":1,"x":7.05,"y":-1.94},{"s":1,"x":7.15,"y":-1.92},{"s":1,"x":7.3,"y":-1.85},{"s":1,"x":7.55,"y":-1.71},{"s":1,"x":7.8,"y":-1.48},{"s":1,"x":8.09,"y":-1.23},{"s":1,"x":8.35,"y":-1.0},{"s":1,"x":8.64,"y":-0.76},{"s":1,"x":8.9,"y":-0.52},{"s":1,"x":9.19,"y":-0.23},{"s":1,"x":9.45,"y":0.08},{"s":1,"x":9.73,"y":0.42},{"s":1,"x":9.98,"y":0.8},{"s":1,"x":10.28,"y":1.06},{"s":1,"x":10.53,"y":1.2},{"s":1,"x":10.86,"y":1.44},{"s":1,"x":11.13,"y":1.58},{"s":1,"x":11.32,"y":1.65},{"s":1,"x":11.46,"y":1.74},{"s":1,"x":11.52,"y":1.72},{"s":1,"x":11.46,"y":1.6},{"s":1,"x":11.36,"y":1.5},{"s":1,"x":11.46,"y":1.4},{"s":1,"x":11.3,"y":1.38},{"s":1,"x":11.27,"y":1.2},{"s":1,"x":11.16,"y":0.9},{"s":1,"x":10.94,"y":0.9},{"s":1,"x":10.8,"y":0.73},{"s":1,"x":10.78,"y":0.43},{"s":1,"x":10.75,"y":0.07},{"s":1,"x":10.64,"y":-0.17},{"s":1,"x":10.61,"y":-0.46},{"s":1,"x":10.72,"y":-0.64},{"s":1,"x":10.62,"y":-0.9},{"s":1,"x":10.61,"y":-1.3},{"s":1,"x":10.53,"y":-1.42},{"s":1,"x":10.48,"y":-1.65},{"s":1,"x":10.37,"y":-1.71},{"s":1,"x":10.31,"y":-2.07},{"s":1,"x":10.2,"y":-2.3},{"s":1,"x":10.04,"y":-2.73},{"s":1,"x":9.9,"y":-3.09},{"s":1,"x":9.87,"y":-3.32},{"s":1,"x":10.01,"y":-3.5},{"s":1,"x":10.28,"y":-3.56},{"s":1,"x":10.53,"y":-3.6},{"s":1,"x":10.86,"y":-3.56},{"s":1,"x":11.08,"y":-3.5},{"s":1,"x":11.19,"y":-3.42},{"s":1,"x":11.3,"y":-3.44},{"s":1,"x":11.35,"y":-3.2},{"s":1,"x":11.46,"y":-2.96},{"s":1,"x":11.62,"y":-2.85},{"s":1,"x":11.51,"y":-2.75},{"s":1,"x":11.68,"y":-2.7},{"s":1,"x":11.7,"y":-2.49},{"s":1,"x":11.73,"y":-1.89},{"s":1,"x":11.81,"y":-1.6},{"s":1,"x":11.57,"y":-1.46},{"s":1,"x":11.51,"y":-1.63},{"s":1,"x":11.4,"y":-1.67},{"s":1,"x":11.35,"y":-1.44},{"s":1,"x":11.35,"y":-1.14},{"s":1,"x":11.27,"y":-0.92},{"s":1,"x":11.24,"y":-0.68},{"s":1,"x":11.13,"y":-0.45},{"s":1,"x":11.05,"y":-0.52},{"s":1,"x":10.98,"y":-0.38},{"s":1,"x":10.9,"y":-0.22},{"s":1,"x":10.75,"y":-0.25},{"s":1,"x":10.6,"y":-0.3},
{"s":2,"x":7.0,"y":-2.79},{"s":2,"x":7.3,"y":-2.63},{"s":2,"x":7.55,"y":-2.49},{"s":2,"x":7.8,"y":-2.4},{"s":2,"x":8.09,"y":-2.25},{"s":2,"x":8.35,"y":-2.0},{"s":2,"x":8.64,"y":-1.72},{"s":2,"x":8.9,"y":-1.4},{"s":2,"x":9.19,"y":-1.06},{"s":2,"x":9.4,"y":-0.85},{"s":2,"x":9.62,"y":-0.64},{"s":2,"x":9.85,"y":-0.52},{"s":2,"x":10.06,"y":-0.46},{"s":2,"x":10.28,"y":-0.35},{"s":2,"x":10.45,"y":-0.3},{"s":2,"x":10.6,"y":-0.3},
{"s":3,"x":10.95,"y":-0.1},{"s":3,"x":10.97,"y":-0.4},{"s":3,"x":10.95,"y":-0.75},
{"s":4,"x":11.355,"y":-0.23},{"s":4,"x":11.38,"y":-0.19},{"s":4,"x":11.405,"y":-0.23},{"s":4,"x":11.38,"y":-0.27},{"s":4,"x":11.355,"y":-0.23},
{"s":5,"x":10.505,"y":-0.76},{"s":5,"x":10.53,"y":-0.72},{"s":5,"x":10.555,"y":-0.76},{"s":5,"x":10.53,"y":-0.8},{"s":5,"x":10.505,"y":-0.76},
{"s":6,"x":10.505,"y":-1.0},{"s":6,"x":10.53,"y":-0.96},{"s":6,"x":10.555,"y":-1.0},{"s":6,"x":10.53,"y":-1.04},{"s":6,"x":10.505,"y":-1.0},
{"s":7,"x":10.37,"y":-1.3},{"s":7,"x":10.47,"y":-1.3},{"s":7,"x":10.47,"y":-1.34},{"s":7,"x":10.37,"y":-1.34},{"s":7,"x":10.37,"y":-1.3},
{"s":8,"x":11.51,"y":1.77},{"s":8,"x":11.56,"y":1.81},{"s":8,"x":11.61,"y":1.77},{"s":8,"x":11.56,"y":1.73},{"s":8,"x":11.51,"y":1.77}
],
"p4o": [
{"s":1,"x":7.0,"y":-1.9},{"s":1,"x":7.3,"y":-1.82},{"s":1,"x":7.55,"y":-1.66},{"s":1,"x":7.77,"y":-1.5},{"s":1,"x":8.09,"y":-1.25},{"s":1,"x":8.4,"y":-1.0},{"s":1,"x":8.64,"y":-0.72},{"s":1,"x":9.0,"y":-0.35},{"s":1,"x":9.19,"y":-0.11},{"s":1,"x":9.45,"y":0.08},{"s":1,"x":9.73,"y":0.25},{"s":1,"x":10.06,"y":0.55},{"s":1,"x":10.28,"y":0.7},{"s":1,"x":10.48,"y":0.74},{"s":1,"x":10.62,"y":0.78},{"s":1,"x":10.5,"y":0.6},{"s":1,"x":10.28,"y":0.33},{"s":1,"x":10.01,"y":0.19},{"s":1,"x":9.73,"y":-0.11},{"s":1,"x":9.51,"y":-0.58},{"s":1,"x":9.25,"y":-0.95},{"s":1,"x":9.02,"y":-1.24},{"s":1,"x":8.75,"y":-1.55},{"s":1,"x":8.48,"y":-1.83},{"s":1,"x":8.31,"y":-2.13},{"s":1,"x":8.09,"y":-2.22},{"s":1,"x":7.8,"y":-2.35},{"s":1,"x":7.55,"y":-2.46},{"s":1,"x":7.3,"y":-2.6},{"s":1,"x":7.0,"y":-2.77},
{"s":2,"x":7.9,"y":-3.8},{"s":2,"x":7.9,"y":-3.67},{"s":2,"x":7.93,"y":-3.44},{"s":2,"x":8.15,"y":-3.2},{"s":2,"x":8.3,"y":-3.05},{"s":2,"x":8.42,"y":-2.73},{"s":2,"x":8.64,"y":-2.37},{"s":2,"x":8.86,"y":-1.96},{"s":2,"x":9.08,"y":-1.72},{"s":2,"x":9.3,"y":-1.42},{"s":2,"x":9.57,"y":-1.18},{"s":2,"x":9.68,"y":-1.18},{"s":2,"x":9.84,"y":-0.82},{"s":2,"x":10.01,"y":-0.52},{"s":2,"x":10.17,"y":-0.23},{"s":2,"x":10.3,"y":0.0},{"s":2,"x":10.37,"y":0.19},{"s":2,"x":10.58,"y":0.25},{"s":2,"x":10.64,"y":-0.05},{"s":2,"x":10.69,"y":-0.17},{"s":2,"x":10.86,"y":-0.46},{"s":2,"x":11.08,"y":-0.58},{"s":2,"x":11.24,"y":-0.7},{"s":2,"x":11.3,"y":-1.06},{"s":2,"x":11.35,"y":-1.5},{"s":2,"x":11.24,"y":-1.86},{"s":2,"x":11.3,"y":-2.45},{"s":2,"x":11.46,"y":-2.69},{"s":2,"x":11.4,"y":-2.93},{"s":2,"x":11.3,"y":-3.05},{"s":2,"x":11.19,"y":-3.35},{"s":2,"x":11.08,"y":-3.4},{"s":2,"x":10.8,"y":-3.38},{"s":2,"x":10.53,"y":-3.35},{"s":2,"x":10.28,"y":-3.38},{"s":2,"x":9.95,"y":-3.44},{"s":2,"x":9.46,"y":-3.56},{"s":2,"x":8.97,"y":-3.74},{"s":2,"x":8.8,"y":-3.92},{"s":2,"x":8.48,"y":-3.98},{"s":2,"x":8.2,"y":-3.9},{"s":2,"x":7.9,"y":-3.8},
{"s":3,"x":10.975,"y":0.58},{"s":3,"x":11.0,"y":0.62},{"s":3,"x":11.025,"y":0.58},{"s":3,"x":11.0,"y":0.54},{"s":3,"x":10.975,"y":0.58},
{"s":4,"x":10.755,"y":0.07},{"s":4,"x":10.78,"y":0.11},{"s":4,"x":10.805,"y":0.07},{"s":4,"x":10.78,"y":0.03},{"s":4,"x":10.755,"y":0.07},
{"s":5,"x":10.995,"y":-0.1},{"s":5,"x":11.02,"y":-0.06},{"s":5,"x":11.045,"y":-0.1},{"s":5,"x":11.02,"y":-0.14},{"s":5,"x":10.995,"y":-0.1},
{"s":6,"x":11.17,"y":-0.07},{"s":6,"x":11.24,"y":-0.01},{"s":6,"x":11.31,"y":-0.07},{"s":6,"x":11.24,"y":-0.13},{"s":6,"x":11.17,"y":-0.07},
{"s":7,"x":10.79,"y":-0.37},{"s":7,"x":10.86,"y":-0.31},{"s":7,"x":10.93,"y":-0.37},{"s":7,"x":10.86,"y":-0.43},{"s":7,"x":10.79,"y":-0.37},
{"s":8,"x":11.06,"y":-0.43},{"s":8,"x":11.13,"y":-0.37},{"s":8,"x":11.2,"y":-0.43},{"s":8,"x":11.13,"y":-0.49},{"s":8,"x":11.06,"y":-0.43},
{"s":9,"x":10.7,"y":-0.96},{"s":9,"x":10.8,"y":-0.86},{"s":9,"x":10.9,"y":-0.96},{"s":9,"x":10.8,"y":-1.06},{"s":9,"x":10.7,"y":-0.96},
{"s":10,"x":10.255,"y":-0.57},{"s":10,"x":10.28,"y":-0.53},{"s":10,"x":10.305,"y":-0.57},{"s":10,"x":10.28,"y":-0.61},{"s":10,"x":10.255,"y":-0.57},
{"s":11,"x":10.025,"y":-1.08},{"s":11,"x":10.04,"y":-0.98},{"s":11,"x":10.055,"y":-1.08},{"s":11,"x":10.04,"y":-1.18},{"s":11,"x":10.025,"y":-1.08},
{"s":12,"x":7.47,"y":-3.5},{"s":12,"x":7.52,"y":-3.45},{"s":12,"x":7.57,"y":-3.5},{"s":12,"x":7.52,"y":-3.55},{"s":12,"x":7.47,"y":-3.5},
{"s":13,"x":7.0,"y":-1.44},{"s":13,"x":7.06,"y":-1.4},{"s":13,"x":7.1,"y":-1.55},{"s":13,"x":7.05,"y":-1.65},{"s":13,"x":7.0,"y":-1.6},
{"s":14,"x":10.395,"y":-0.73},{"s":14,"x":10.42,"y":-0.69},{"s":14,"x":10.445,"y":-0.73},{"s":14,"x":10.42,"y":-0.77},{"s":14,"x":10.395,"y":-0.73}
],
"p5b": [
{"s":1,"x":7.0,"y":-1.31},{"s":1,"x":7.22,"y":-1.23},{"s":1,"x":7.39,"y":-1.19},{"s":1,"x":7.5,"y":-1.49},{"s":1,"x":7.66,"y":-1.51},{"s":1,"x":7.88,"y":-1.37},{"s":1,"x":8.1,"y":-1.19},{"s":1,"x":8.32,"y":-0.95},{"s":1,"x":8.54,"y":-0.71},{"s":1,"x":8.75,"y":-0.47},{"s":1,"x":8.92,"y":-0.24},{"s":1,"x":8.97,"y":0.06},{"s":1,"x":9.19,"y":0.24},{"s":1,"x":9.41,"y":0.42},{"s":1,"x":9.63,"y":0.6},{"s":1,"x":9.9,"y":0.78},{"s":1,"x":10.17,"y":0.96},{"s":1,"x":10.45,"y":1.04},{"s":1,"x":10.72,"y":1.05},{"s":1,"x":10.94,"y":1.02},{"s":1,"x":11.08,"y":0.84},{"s":1,"x":11.02,"y":0.6},{"s":1,"x":11.13,"y":0.36},{"s":1,"x":11.19,"y":0.0},{"s":1,"x":11.27,"y":-0.42},{"s":1,"x":11.32,"y":-0.47},{"s":1,"x":11.43,"y":-0.24},{"s":1,"x":11.6,"y":-0.06},{"s":1,"x":11.7,"y":0.0},{"s":1,"x":11.79,"y":0.0},{"s":1,"x":11.81,"y":-0.3},{"s":1,"x":11.76,"y":-0.66},{"s":1,"x":11.79,"y":-0.84},{"s":1,"x":11.7,"y":-1.25},{"s":1,"x":11.65,"y":-1.73},{"s":1,"x":11.54,"y":-2.21},{"s":1,"x":11.6,"y":-2.56},{"s":1,"x":11.51,"y":-2.92},{"s":1,"x":11.38,"y":-3.22},{"s":1,"x":11.19,"y":-3.46},{"s":1,"x":11.05,"y":-3.4},{"s":1,"x":10.97,"y":-3.22},{"s":1,"x":10.92,"y":-3.04},{"s":1,"x":10.72,"y":-3.1},{"s":1,"x":10.45,"y":-3.22},{"s":1,"x":10.17,"y":-3.46},{"s":1,"x":9.96,"y":-3.76},{"s":1,"x":9.74,"y":-4.06},{"s":1,"x":9.52,"y":-4.41},{"s":1,"x":9.41,"y":-4.65},{"s":1,"x":9.25,"y":-4.77},{"s":1,"x":9.08,"y":-4.71},{"s":1,"x":9.0,"y":-4.47},{"s":1,"x":8.97,"y":-4.12},{"s":1,"x":9.08,"y":-3.76},{"s":1,"x":9.05,"y":-3.4},{"s":1,"x":9.14,"y":-3.16},{"s":1,"x":9.11,"y":-2.98},{"s":1,"x":9.25,"y":-2.68},{"s":1,"x":9.36,"y":-2.21},{"s":1,"x":9.41,"y":-1.97},{"s":1,"x":9.52,"y":-1.73},{"s":1,"x":9.55,"y":-1.49},{"s":1,"x":9.52,"y":-1.28},{"s":1,"x":9.36,"y":-1.37},{"s":1,"x":9.19,"y":-1.49},{"s":1,"x":9.03,"y":-1.61},{"s":1,"x":8.95,"y":-1.7},{"s":1,"x":8.81,"y":-1.61},{"s":1,"x":8.54,"y":-1.85},{"s":1,"x":8.26,"y":-2.09},{"s":1,"x":7.99,"y":-2.23},{"s":1,"x":7.72,"y":-2.39},{"s":1,"x":7.44,"y":-2.51},{"s":1,"x":7.17,"y":-2.63},{"s":1,"x":7.0,"y":-2.69},
{"s":2,"x":8.945,"y":0.12},{"s":2,"x":8.97,"y":0.16},{"s":2,"x":8.995,"y":0.12},{"s":2,"x":8.97,"y":0.08},{"s":2,"x":8.945,"y":0.12},
{"s":3,"x":9.085,"y":0.15},{"s":3,"x":9.11,"y":0.19},{"s":3,"x":9.135,"y":0.15},{"s":3,"x":9.11,"y":0.11},{"s":3,"x":9.085,"y":0.15},
{"s":4,"x":7.285,"y":-4.3},{"s":4,"x":7.31,"y":-4.26},{"s":4,"x":7.335,"y":-4.3},{"s":4,"x":7.31,"y":-4.34},{"s":4,"x":7.285,"y":-4.3},
{"s":5,"x":10.85,"y":-3.64},{"s":5,"x":10.92,"y":-3.58},{"s":5,"x":10.99,"y":-3.64},{"s":5,"x":10.92,"y":-3.7},{"s":5,"x":10.85,"y":-3.64},
{"s":6,"x":11.06,"y":-3.7},{"s":6,"x":11.13,"y":-3.64},{"s":6,"x":11.2,"y":-3.7},{"s":6,"x":11.13,"y":-3.76},{"s":6,"x":11.06,"y":-3.7},
{"s":7,"x":11.35,"y":-3.26},{"s":7,"x":11.45,"y":-3.26},{"s":7,"x":11.45,"y":-3.3},{"s":7,"x":11.35,"y":-3.3},{"s":7,"x":11.35,"y":-3.26},
{"s":8,"x":10.98,"y":-4.34},{"s":8,"x":11.08,"y":-4.34},{"s":8,"x":11.08,"y":-4.38},{"s":8,"x":10.98,"y":-4.38},{"s":8,"x":10.98,"y":-4.34},
{"s":9,"x":11.33,"y":-4.34},{"s":9,"x":11.43,"y":-4.34},{"s":9,"x":11.43,"y":-4.38},{"s":9,"x":11.33,"y":-4.38},{"s":9,"x":11.33,"y":-4.34},
{"s":10,"x":11.175,"y":-4.0},{"s":10,"x":11.2,"y":-3.96},{"s":10,"x":11.225,"y":-4.0},{"s":10,"x":11.2,"y":-4.04},{"s":10,"x":11.175,"y":-4.0}
],
"p5o": [
{"s":1,"x":7.0,"y":-4.65},{"s":1,"x":7.22,"y":-4.24},{"s":1,"x":7.44,"y":-3.94},{"s":1,"x":7.72,"y":-3.76},{"s":1,"x":7.88,"y":-3.54},{"s":1,"x":8.1,"y":-3.22},{"s":1,"x":8.32,"y":-2.9},{"s":1,"x":8.54,"y":-2.56},{"s":1,"x":8.75,"y":-2.27},{"s":1,"x":8.97,"y":-2.03},{"s":1,"x":9.08,"y":-1.97},{"s":1,"x":9.3,"y":-1.73},{"s":1,"x":9.41,"y":-1.61},{"s":1,"x":9.52,"y":-1.64},{"s":1,"x":9.6,"y":-1.55},{"s":1,"x":9.74,"y":-1.25},{"s":1,"x":9.96,"y":-1.01},{"s":1,"x":10.17,"y":-0.83},{"s":1,"x":10.28,"y":-0.77},{"s":1,"x":10.35,"y":-0.55},{"s":1,"x":10.5,"y":-0.42},{"s":1,"x":10.61,"y":-0.3},{"s":1,"x":10.64,"y":-0.12},{"s":1,"x":10.8,"y":-0.12},{"s":1,"x":10.94,"y":-0.06},{"s":1,"x":11.05,"y":-0.12},{"s":1,"x":11.16,"y":-0.24},{"s":1,"x":11.16,"y":-0.53},{"s":1,"x":11.24,"y":-0.71},{"s":1,"x":11.43,"y":-0.83},{"s":1,"x":11.49,"y":-1.13},{"s":1,"x":11.43,"y":-1.49},{"s":1,"x":11.38,"y":-1.73},{"s":1,"x":11.4,"y":-2.03},{"s":1,"x":11.32,"y":-2.33},{"s":1,"x":11.21,"y":-2.56},{"s":1,"x":11.16,"y":-2.92},{"s":1,"x":11.1,"y":-3.22},{"s":1,"x":11.27,"y":-3.28},{"s":1,"x":11.13,"y":-3.34},{"s":1,"x":11.0,"y":-3.34},{"s":1,"x":10.89,"y":-3.4},{"s":1,"x":10.78,"y":-3.5},{"s":1,"x":10.67,"y":-3.64},{"s":1,"x":10.56,"y":-3.88},{"s":1,"x":10.5,"y":-4.12},{"s":1,"x":10.34,"y":-4.24},{"s":1,"x":10.17,"y":-4.36},{"s":1,"x":10.01,"y":-4.59},{"s":1,"x":9.85,"y":-4.95},{"s":1,"x":9.63,"y":-5.31},{"s":1,"x":9.36,"y":-5.61},{"s":1,"x":9.08,"y":-5.91},{"s":1,"x":8.75,"y":-6.15},{"s":1,"x":8.54,"y":-6.39},{"s":1,"x":8.26,"y":-6.62},{"s":1,"x":7.99,"y":-6.8},{"s":1,"x":7.72,"y":-6.92},{"s":1,"x":7.55,"y":-7.0},
{"s":2,"x":8.455,"y":-1.29},{"s":2,"x":8.48,"y":-1.25},{"s":2,"x":8.505,"y":-1.29},{"s":2,"x":8.48,"y":-1.33},{"s":2,"x":8.455,"y":-1.29},
{"s":3,"x":8.575,"y":-1.22},{"s":3,"x":8.6,"y":-1.18},{"s":3,"x":8.625,"y":-1.22},{"s":3,"x":8.6,"y":-1.26},{"s":3,"x":8.575,"y":-1.22},
{"s":4,"x":8.825,"y":-0.95},{"s":4,"x":8.85,"y":-0.91},{"s":4,"x":8.875,"y":-0.95},{"s":4,"x":8.85,"y":-0.99},{"s":4,"x":8.825,"y":-0.95},
{"s":5,"x":9.055,"y":-0.71},{"s":5,"x":9.08,"y":-0.67},{"s":5,"x":9.105,"y":-0.71},{"s":5,"x":9.08,"y":-0.75},{"s":5,"x":9.055,"y":-0.71},
{"s":6,"x":10.96,"y":0.04},{"s":6,"x":11.0,"y":0.1},{"s":6,"x":11.04,"y":0.04},{"s":6,"x":11.0,"y":-0.02},{"s":6,"x":10.96,"y":0.04},
{"s":7,"x":11.42,"y":-0.3},{"s":7,"x":11.49,"y":-0.24},{"s":7,"x":11.56,"y":-0.3},{"s":7,"x":11.49,"y":-0.36},{"s":7,"x":11.42,"y":-0.3},
{"s":8,"x":11.0,"y":-3.82},{"s":8,"x":11.1,"y":-3.75},{"s":8,"x":11.2,"y":-3.82},{"s":8,"x":11.1,"y":-3.9},{"s":8,"x":11.0,"y":-3.82}
],
"p6b": [
{"s":1,"x":7.0,"y":-1.31},{"s":1,"x":7.04,"y":-1.31},{"s":1,"x":7.42,"y":-1.23},{"s":1,"x":7.44,"y":-1.55},{"s":1,"x":7.69,"y":-1.49},{"s":1,"x":7.96,"y":-1.31},{"s":1,"x":8.23,"y":-1.07},{"s":1,"x":8.51,"y":-0.71},{"s":1,"x":8.78,"y":-0.41},{"s":1,"x":9.0,"y":-0.06},{"s":1,"x":9.22,"y":0.18},{"s":1,"x":9.55,"y":0.42},{"s":1,"x":9.82,"y":0.6},{"s":1,"x":10.09,"y":0.78},{"s":1,"x":10.31,"y":1.02},{"s":1,"x":10.53,"y":1.08},{"s":1,"x":10.75,"y":1.14},{"s":1,"x":10.92,"y":1.17},{"s":1,"x":11.08,"y":1.08},{"s":1,"x":11.19,"y":0.9},{"s":1,"x":11.16,"y":0.6},{"s":1,"x":11.19,"y":0.24},{"s":1,"x":11.16,"y":-0.12},{"s":1,"x":11.24,"y":-0.24},{"s":1,"x":11.35,"y":-0.24},{"s":1,"x":11.46,"y":0.0},{"s":1,"x":11.62,"y":0.06},{"s":1,"x":11.68,"y":0.0},{"s":1,"x":11.79,"y":-0.3},{"s":1,"x":11.71,"y":-0.53},{"s":1,"x":11.84,"y":-0.77},{"s":1,"x":11.71,"y":-1.07},{"s":1,"x":11.66,"y":-1.43},{"s":1,"x":11.54,"y":-1.55},{"s":1,"x":11.6,"y":-1.85},{"s":1,"x":11.49,"y":-2.03},{"s":1,"x":11.51,"y":-2.45},{"s":1,"x":11.46,"y":-2.8},{"s":1,"x":11.38,"y":-3.04},{"s":1,"x":11.4,"y":-3.4},{"s":1,"x":11.3,"y":-3.64},{"s":1,"x":11.18,"y":-3.6},{"s":1,"x":11.02,"y":-3.52},{"s":1,"x":10.91,"y":-3.34},{"s":1,"x":10.64,"y":-3.4},{"s":1,"x":10.48,"y":-3.64},{"s":1,"x":10.2,"y":-3.88},{"s":1,"x":9.98,"y":-4.12},{"s":1,"x":9.77,"y":-4.47},{"s":1,"x":9.55,"y":-4.65},{"s":1,"x":9.33,"y":-4.89},{"s":1,"x":9.16,"y":-4.71},{"s":1,"x":9.11,"y":-4.47},{"s":1,"x":9.08,"y":-4.0},{"s":1,"x":9.16,"y":-3.52},{"s":1,"x":9.27,"y":-3.04},{"s":1,"x":9.33,"y":-2.68},{"s":1,"x":9.44,"y":-2.33},{"s":1,"x":9.55,"y":-1.85},{"s":1,"x":9.66,"y":-1.43},{"s":1,"x":9.82,"y":-1.01},{"s":1,"x":9.95,"y":-0.85},{"s":1,"x":9.98,"y":-0.95},{"s":1,"x":9.9,"y":-1.0},{"s":1,"x":9.85,"y":-0.83},
{"s":2,"x":7.0,"y":-2.69},{"s":2,"x":7.04,"y":-2.68},{"s":2,"x":7.36,"y":-2.56},{"s":2,"x":7.8,"y":-2.33},{"s":2,"x":8.13,"y":-2.09},{"s":2,"x":8.45,"y":-1.79},{"s":2,"x":8.78,"y":-1.61},{"s":2,"x":9.0,"y":-1.55},{"s":2,"x":9.22,"y":-1.43},{"s":2,"x":9.44,"y":-1.25},{"s":2,"x":9.55,"y":-1.13},{"s":2,"x":9.71,"y":-1.01},{"s":2,"x":9.85,"y":-0.83},
{"s":3,"x":10.995,"y":0.64},{"s":3,"x":11.02,"y":0.68},{"s":3,"x":11.045,"y":0.64},{"s":3,"x":11.02,"y":0.6},{"s":3,"x":10.995,"y":0.64},
{"s":4,"x":11.09,"y":-4.35},{"s":4,"x":11.16,"y":-4.3},{"s":4,"x":11.23,"y":-4.35},{"s":4,"x":11.16,"y":-4.4},{"s":4,"x":11.09,"y":-4.35},
{"s":5,"x":11.355,"y":-4.02},{"s":5,"x":11.38,"y":-3.98},{"s":5,"x":11.405,"y":-4.02},{"s":5,"x":11.38,"y":-4.06},{"s":5,"x":11.355,"y":-4.02},
{"s":6,"x":11.44,"y":-3.34},{"s":6,"x":11.51,"y":-3.27},{"s":6,"x":11.58,"y":-3.34},{"s":6,"x":11.51,"y":-3.41},{"s":6,"x":11.44,"y":-3.34},
{"s":7,"x":7.275,"y":-4.35},{"s":7,"x":7.3,"y":-4.31},{"s":7,"x":7.325,"y":-4.35},{"s":7,"x":7.3,"y":-4.39},{"s":7,"x":7.275,"y":-4.35},
{"s":8,"x":10.52,"y":-0.27},{"s":8,"x":10.53,"y":-0.24},{"s":8,"x":10.54,"y":-0.27},{"s":8,"x":10.53,"y":-0.3},{"s":8,"x":10.52,"y":-0.27},
{"s":9,"x":10.28,"y":-1.13},{"s":9,"x":10.29,"y":-1.1},{"s":9,"x":10.3,"y":-1.13},{"s":9,"x":10.29,"y":-1.16},{"s":9,"x":10.28,"y":-1.13}
],
"p6o": [
{"s":1,"x":7.0,"y":-4.68},{"s":1,"x":7.04,"y":-4.65},{"s":1,"x":7.25,"y":-4.35},{"s":1,"x":7.52,"y":-4.0},{"s":1,"x":7.8,"y":-3.76},{"s":1,"x":8.07,"y":-3.34},{"s":1,"x":8.34,"y":-2.8},{"s":1,"x":8.62,"y":-2.56},{"s":1,"x":8.89,"y":-2.21},{"s":1,"x":9.16,"y":-1.91},{"s":1,"x":9.44,"y":-1.61},{"s":1,"x":9.66,"y":-1.25},{"s":1,"x":9.82,"y":-0.95},{"s":1,"x":9.98,"y":-0.77},{"s":1,"x":10.09,"y":-0.65},{"s":1,"x":10.26,"y":-0.53},{"s":1,"x":10.31,"y":-0.65},{"s":1,"x":10.53,"y":-0.53},{"s":1,"x":10.75,"y":-0.47},{"s":1,"x":10.97,"y":-0.41},{"s":1,"x":11.19,"y":-0.41},{"s":1,"x":11.24,"y":-0.89},{"s":1,"x":11.3,"y":-1.25},{"s":1,"x":11.35,"y":-1.49},{"s":1,"x":11.4,"y":-1.73},{"s":1,"x":11.35,"y":-2.09},{"s":1,"x":11.24,"y":-2.27},{"s":1,"x":11.24,"y":-2.68},{"s":1,"x":11.19,"y":-2.92},{"s":1,"x":11.08,"y":-3.16},{"s":1,"x":11.02,"y":-3.4},{"s":1,"x":11.13,"y":-3.58},{"s":1,"x":10.98,"y":-3.55},{"s":1,"x":10.86,"y":-3.64},{"s":1,"x":10.75,"y":-3.76},{"s":1,"x":10.53,"y":-4.0},{"s":1,"x":10.4,"y":-4.15},{"s":1,"x":10.2,"y":-4.35},{"s":1,"x":9.98,"y":-4.59},{"s":1,"x":9.77,"y":-4.83},{"s":1,"x":9.55,"y":-5.07},{"s":1,"x":9.33,"y":-5.43},{"s":1,"x":9.11,"y":-5.79},{"s":1,"x":8.89,"y":-6.15},{"s":1,"x":8.62,"y":-6.44},{"s":1,"x":8.34,"y":-6.62},{"s":1,"x":8.07,"y":-6.74},{"s":1,"x":7.69,"y":-6.98},{"s":1,"x":7.66,"y":-7.0},
{"s":2,"x":9.795,"y":0.06},{"s":2,"x":9.82,"y":0.1},{"s":2,"x":9.845,"y":0.06},{"s":2,"x":9.82,"y":0.02},{"s":2,"x":9.795,"y":0.06},
{"s":3,"x":10.255,"y":-0.13},{"s":3,"x":10.28,"y":-0.09},{"s":3,"x":10.305,"y":-0.13},{"s":3,"x":10.28,"y":-0.17},{"s":3,"x":10.255,"y":-0.13},
{"s":4,"x":10.395,"y":-0.3},{"s":4,"x":10.42,"y":-0.26},{"s":4,"x":10.445,"y":-0.3},{"s":4,"x":10.42,"y":-0.34},{"s":4,"x":10.395,"y":-0.3},
{"s":5,"x":10.0,"y":-0.44},{"s":5,"x":10.05,"y":-0.36},{"s":5,"x":10.1,"y":-0.44},{"s":5,"x":10.05,"y":-0.52},{"s":5,"x":10.0,"y":-0.44},
{"s":6,"x":9.055,"y":-0.71},{"s":6,"x":9.08,"y":-0.67},{"s":6,"x":9.105,"y":-0.71},{"s":6,"x":9.08,"y":-0.75},{"s":6,"x":9.055,"y":-0.71},
{"s":7,"x":8.815,"y":-0.95},{"s":7,"x":8.84,"y":-0.91},{"s":7,"x":8.865,"y":-0.95},{"s":7,"x":8.84,"y":-0.99},{"s":7,"x":8.815,"y":-0.95},
{"s":8,"x":8.595,"y":-1.19},{"s":8,"x":8.62,"y":-1.15},{"s":8,"x":8.645,"y":-1.19},{"s":8,"x":8.62,"y":-1.23},{"s":8,"x":8.595,"y":-1.19},
{"s":9,"x":8.455,"y":-1.28},{"s":9,"x":8.48,"y":-1.24},{"s":9,"x":8.505,"y":-1.28},{"s":9,"x":8.48,"y":-1.32},{"s":9,"x":8.455,"y":-1.28},
{"s":10,"x":8.115,"y":-1.61},{"s":10,"x":8.13,"y":-1.58},{"s":10,"x":8.145,"y":-1.61},{"s":10,"x":8.13,"y":-1.64},{"s":10,"x":8.115,"y":-1.61},
{"s":11,"x":11.07,"y":0.06},{"s":11,"x":11.17,"y":0.06},{"s":11,"x":11.17,"y":0.02},{"s":11,"x":11.07,"y":0.02},{"s":11,"x":11.07,"y":0.06},
{"s":12,"x":11.17,"y":-3.22},{"s":12,"x":11.24,"y":-3.16},{"s":12,"x":11.31,"y":-3.22},{"s":12,"x":11.24,"y":-3.28},{"s":12,"x":11.17,"y":-3.22},
{"s":13,"x":11.095,"y":-4.95},{"s":13,"x":11.12,"y":-4.91},{"s":13,"x":11.145,"y":-4.95},{"s":13,"x":11.12,"y":-4.99},{"s":13,"x":11.095,"y":-4.95},
{"s":14,"x":11.15,"y":-5.29},{"s":14,"x":11.24,"y":-5.24},{"s":14,"x":11.33,"y":-5.29},{"s":14,"x":11.24,"y":-5.34},{"s":14,"x":11.15,"y":-5.29}
]
},
"concat": [
{"width":305,"height":279,"resolve":{"axis":{"x":"independent","y":"independent"}},"layer":[
 {"data":{"name":"p1b"},"mark":{"type":"line","color":"#1f1fd2","strokeWidth":1.2,"strokeJoin":"round","clip":true},"encoding":{"x":{"field":"x","type":"quantitative","scale":{"domain":[7,12],"nice":false,"zero":false},"axis":{"orient":"bottom","values":[7,8,9,10,11,12],"tickCount":100,"tickSize":-8,"labels":false,"title":null}},"y":{"field":"y","type":"quantitative","scale":{"domain":[-7,3],"nice":false,"zero":false},"axis":{"orient":"left","values":[-6,-4,-2,0,2],"tickCount":100,"tickSize":-9,"labelExpr":"datum.value + ''","labelPadding":16,"title":"log(SFR/M⊙yr⁻¹)","titlePadding":13}},"detail":{"field":"s","type":"nominal"},"order":{"value":null}}},
 {"data":{"name":"p1o"},"mark":{"type":"line","color":"#ff5522","strokeWidth":1.2,"strokeJoin":"round","clip":true},"encoding":{"x":{"field":"x","type":"quantitative","scale":{"domain":[7,12],"nice":false,"zero":false},"axis":{"orient":"bottom","values":[7.1,7.2,7.3,7.4,7.5,7.6,7.7,7.8,7.9,8.1,8.2,8.3,8.4,8.5,8.6,8.7,8.8,8.9,9.1,9.2,9.3,9.4,9.5,9.6,9.7,9.8,9.9,10.1,10.2,10.3,10.4,10.5,10.6,10.7,10.8,10.9,11.1,11.2,11.3,11.4,11.5,11.6,11.7,11.8,11.9],"tickCount":100,"tickSize":-4,"labels":false,"title":null}},"y":{"field":"y","type":"quantitative","scale":{"domain":[-7,3],"nice":false,"zero":false},"axis":{"orient":"left","values":[-6.5,-5.5,-5,-4.5,-3.5,-3,-2.5,-1.5,-1,-0.5,0.5,1,1.5,2.5],"tickCount":100,"tickSize":-4.5,"labels":false,"title":null}},"detail":{"field":"s","type":"nominal"},"order":{"value":null}}},
 {"data":{"values":[{}]},"mark":{"type":"text","text":"Bow06","align":"left","baseline":"alphabetic","font":"Liberation Sans","fontSize":20,"color":"#000"},"encoding":{"x":{"datum":7.3,"type":"quantitative","axis":{"orient":"top","values":[7,8,9,10,11,12],"tickCount":100,"tickSize":-8,"labels":false,"title":null}},"y":{"datum":1.6,"type":"quantitative","axis":{"orient":"right","values":[-6,-4,-2,0,2],"tickCount":100,"tickSize":-9,"labels":false,"title":null}}}},
 {"data":{"values":[{}]},"mark":{"type":"point","opacity":0},"encoding":{"x":{"datum":7.3,"type":"quantitative","axis":{"orient":"top","values":[7.1,7.2,7.3,7.4,7.5,7.6,7.7,7.8,7.9,8.1,8.2,8.3,8.4,8.5,8.6,8.7,8.8,8.9,9.1,9.2,9.3,9.4,9.5,9.6,9.7,9.8,9.9,10.1,10.2,10.3,10.4,10.5,10.6,10.7,10.8,10.9,11.1,11.2,11.3,11.4,11.5,11.6,11.7,11.8,11.9],"tickCount":100,"tickSize":-4,"labels":false,"title":null}},"y":{"datum":1.6,"type":"quantitative","axis":{"orient":"right","values":[-6.5,-5.5,-5,-4.5,-3.5,-3,-2.5,-1.5,-1,-0.5,0.5,1,1.5,2.5],"tickCount":100,"tickSize":-4.5,"labels":false,"title":null}}}}
]},
{"width":305,"height":279,"resolve":{"axis":{"x":"independent","y":"independent"}},"layer":[
 {"data":{"name":"p2b"},"mark":{"type":"line","color":"#1f1fd2","strokeWidth":1.2,"strokeJoin":"round","clip":true},"encoding":{"x":{"field":"x","type":"quantitative","scale":{"domain":[7,12],"nice":false,"zero":false},"axis":{"orient":"bottom","values":[7,8,9,10,11,12],"tickCount":100,"tickSize":-8,"labels":false,"title":null}},"y":{"field":"y","type":"quantitative","scale":{"domain":[-7,3],"nice":false,"zero":false},"axis":{"orient":"left","values":[-6,-4,-2,0,2],"tickCount":100,"tickSize":-9,"labels":false,"title":null}},"detail":{"field":"s","type":"nominal"},"order":{"value":null}}},
 {"data":{"name":"p2o"},"mark":{"type":"line","color":"#ff5522","strokeWidth":1.2,"strokeJoin":"round","clip":true},"encoding":{"x":{"field":"x","type":"quantitative","scale":{"domain":[7,12],"nice":false,"zero":false},"axis":{"orient":"bottom","values":[7.1,7.2,7.3,7.4,7.5,7.6,7.7,7.8,7.9,8.1,8.2,8.3,8.4,8.5,8.6,8.7,8.8,8.9,9.1,9.2,9.3,9.4,9.5,9.6,9.7,9.8,9.9,10.1,10.2,10.3,10.4,10.5,10.6,10.7,10.8,10.9,11.1,11.2,11.3,11.4,11.5,11.6,11.7,11.8,11.9],"tickCount":100,"tickSize":-4,"labels":false,"title":null}},"y":{"field":"y","type":"quantitative","scale":{"domain":[-7,3],"nice":false,"zero":false},"axis":{"orient":"left","values":[-6.5,-5.5,-5,-4.5,-3.5,-3,-2.5,-1.5,-1,-0.5,0.5,1,1.5,2.5],"tickCount":100,"tickSize":-4.5,"labels":false,"title":null}},"detail":{"field":"s","type":"nominal"},"order":{"value":null}}},
 {"data":{"values":[{}]},"mark":{"type":"text","text":"Bow06.KMT","align":"left","baseline":"alphabetic","font":"Liberation Sans","fontSize":20,"color":"#000"},"encoding":{"x":{"datum":7.3,"type":"quantitative","axis":{"orient":"top","values":[7,8,9,10,11,12],"tickCount":100,"tickSize":-8,"labels":false,"title":null}},"y":{"datum":1.6,"type":"quantitative","axis":{"orient":"right","values":[-6,-4,-2,0,2],"tickCount":100,"tickSize":-9,"labels":false,"title":null}}}},
 {"data":{"values":[{}]},"mark":{"type":"point","opacity":0},"encoding":{"x":{"datum":7.3,"type":"quantitative","axis":{"orient":"top","values":[7.1,7.2,7.3,7.4,7.5,7.6,7.7,7.8,7.9,8.1,8.2,8.3,8.4,8.5,8.6,8.7,8.8,8.9,9.1,9.2,9.3,9.4,9.5,9.6,9.7,9.8,9.9,10.1,10.2,10.3,10.4,10.5,10.6,10.7,10.8,10.9,11.1,11.2,11.3,11.4,11.5,11.6,11.7,11.8,11.9],"tickCount":100,"tickSize":-4,"labels":false,"title":null}},"y":{"datum":1.6,"type":"quantitative","axis":{"orient":"right","values":[-6.5,-5.5,-5,-4.5,-3.5,-3,-2.5,-1.5,-1,-0.5,0.5,1,1.5,2.5],"tickCount":100,"tickSize":-4.5,"labels":false,"title":null}}}}
]},
{"width":305,"height":279,"resolve":{"axis":{"x":"independent","y":"independent"}},"layer":[
 {"data":{"name":"p3b"},"mark":{"type":"line","color":"#1f1fd2","strokeWidth":1.2,"strokeJoin":"round","clip":true},"encoding":{"x":{"field":"x","type":"quantitative","scale":{"domain":[7,12],"nice":false,"zero":false},"axis":{"orient":"bottom","values":[7,8,9,10,11,12],"tickCount":100,"tickSize":-8,"labels":false,"title":null}},"y":{"field":"y","type":"quantitative","scale":{"domain":[-7,3],"nice":false,"zero":false},"axis":{"orient":"left","values":[-6,-4,-2,0,2],"tickCount":100,"tickSize":-9,"labelExpr":"datum.value + ''","labelPadding":16,"title":"log(SFR/M⊙yr⁻¹)","titlePadding":13}},"detail":{"field":"s","type":"nominal"},"order":{"value":null}}},
 {"data":{"name":"p3o"},"mark":{"type":"line","color":"#ff5522","strokeWidth":1.2,"strokeJoin":"round","clip":true},"encoding":{"x":{"field":"x","type":"quantitative","scale":{"domain":[7,12],"nice":false,"zero":false},"axis":{"orient":"bottom","values":[7.1,7.2,7.3,7.4,7.5,7.6,7.7,7.8,7.9,8.1,8.2,8.3,8.4,8.5,8.6,8.7,8.8,8.9,9.1,9.2,9.3,9.4,9.5,9.6,9.7,9.8,9.9,10.1,10.2,10.3,10.4,10.5,10.6,10.7,10.8,10.9,11.1,11.2,11.3,11.4,11.5,11.6,11.7,11.8,11.9],"tickCount":100,"tickSize":-4,"labels":false,"title":null}},"y":{"field":"y","type":"quantitative","scale":{"domain":[-7,3],"nice":false,"zero":false},"axis":{"orient":"left","values":[-6.5,-5.5,-5,-4.5,-3.5,-3,-2.5,-1.5,-1,-0.5,0.5,1,1.5,2.5],"tickCount":100,"tickSize":-4.5,"labels":false,"title":null}},"detail":{"field":"s","type":"nominal"},"order":{"value":null}}},
 {"data":{"values":[{}]},"mark":{"type":"text","text":"Bow06.KS","align":"left","baseline":"alphabetic","font":"Liberation Sans","fontSize":20,"color":"#000"},"encoding":{"x":{"datum":7.3,"type":"quantitative","axis":{"orient":"top","values":[7,8,9,10,11,12],"tickCount":100,"tickSize":-8,"labels":false,"title":null}},"y":{"datum":1.6,"type":"quantitative","axis":{"orient":"right","values":[-6,-4,-2,0,2],"tickCount":100,"tickSize":-9,"labels":false,"title":null}}}},
 {"data":{"values":[{}]},"mark":{"type":"point","opacity":0},"encoding":{"x":{"datum":7.3,"type":"quantitative","axis":{"orient":"top","values":[7.1,7.2,7.3,7.4,7.5,7.6,7.7,7.8,7.9,8.1,8.2,8.3,8.4,8.5,8.6,8.7,8.8,8.9,9.1,9.2,9.3,9.4,9.5,9.6,9.7,9.8,9.9,10.1,10.2,10.3,10.4,10.5,10.6,10.7,10.8,10.9,11.1,11.2,11.3,11.4,11.5,11.6,11.7,11.8,11.9],"tickCount":100,"tickSize":-4,"labels":false,"title":null}},"y":{"datum":1.6,"type":"quantitative","axis":{"orient":"right","values":[-6.5,-5.5,-5,-4.5,-3.5,-3,-2.5,-1.5,-1,-0.5,0.5,1,1.5,2.5],"tickCount":100,"tickSize":-4.5,"labels":false,"title":null}}}}
]},
{"width":305,"height":279,"resolve":{"axis":{"x":"independent","y":"independent"}},"layer":[
 {"data":{"name":"p4b"},"mark":{"type":"line","color":"#1f1fd2","strokeWidth":1.2,"strokeJoin":"round","clip":true},"encoding":{"x":{"field":"x","type":"quantitative","scale":{"domain":[7,12],"nice":false,"zero":false},"axis":{"orient":"bottom","values":[7,8,9,10,11,12],"tickCount":100,"tickSize":-8,"labels":false,"title":null}},"y":{"field":"y","type":"quantitative","scale":{"domain":[-7,3],"nice":false,"zero":false},"axis":{"orient":"left","values":[-6,-4,-2,0,2],"tickCount":100,"tickSize":-9,"labels":false,"title":null}},"detail":{"field":"s","type":"nominal"},"order":{"value":null}}},
 {"data":{"name":"p4o"},"mark":{"type":"line","color":"#ff5522","strokeWidth":1.2,"strokeJoin":"round","clip":true},"encoding":{"x":{"field":"x","type":"quantitative","scale":{"domain":[7,12],"nice":false,"zero":false},"axis":{"orient":"bottom","values":[7.1,7.2,7.3,7.4,7.5,7.6,7.7,7.8,7.9,8.1,8.2,8.3,8.4,8.5,8.6,8.7,8.8,8.9,9.1,9.2,9.3,9.4,9.5,9.6,9.7,9.8,9.9,10.1,10.2,10.3,10.4,10.5,10.6,10.7,10.8,10.9,11.1,11.2,11.3,11.4,11.5,11.6,11.7,11.8,11.9],"tickCount":100,"tickSize":-4,"labels":false,"title":null}},"y":{"field":"y","type":"quantitative","scale":{"domain":[-7,3],"nice":false,"zero":false},"axis":{"orient":"left","values":[-6.5,-5.5,-5,-4.5,-3.5,-3,-2.5,-1.5,-1,-0.5,0.5,1,1.5,2.5],"tickCount":100,"tickSize":-4.5,"labels":false,"title":null}},"detail":{"field":"s","type":"nominal"},"order":{"value":null}}},
 {"data":{"values":[{}]},"mark":{"type":"text","text":"Bow06.KS.thresh","align":"left","baseline":"alphabetic","font":"Liberation Sans","fontSize":20,"color":"#000"},"encoding":{"x":{"datum":7.3,"type":"quantitative","axis":{"orient":"top","values":[7,8,9,10,11,12],"tickCount":100,"tickSize":-8,"labels":false,"title":null}},"y":{"datum":1.6,"type":"quantitative","axis":{"orient":"right","values":[-6,-4,-2,0,2],"tickCount":100,"tickSize":-9,"labels":false,"title":null}}}},
 {"data":{"values":[{}]},"mark":{"type":"point","opacity":0},"encoding":{"x":{"datum":7.3,"type":"quantitative","axis":{"orient":"top","values":[7.1,7.2,7.3,7.4,7.5,7.6,7.7,7.8,7.9,8.1,8.2,8.3,8.4,8.5,8.6,8.7,8.8,8.9,9.1,9.2,9.3,9.4,9.5,9.6,9.7,9.8,9.9,10.1,10.2,10.3,10.4,10.5,10.6,10.7,10.8,10.9,11.1,11.2,11.3,11.4,11.5,11.6,11.7,11.8,11.9],"tickCount":100,"tickSize":-4,"labels":false,"title":null}},"y":{"datum":1.6,"type":"quantitative","axis":{"orient":"right","values":[-6.5,-5.5,-5,-4.5,-3.5,-3,-2.5,-1.5,-1,-0.5,0.5,1,1.5,2.5],"tickCount":100,"tickSize":-4.5,"labels":false,"title":null}}}}
]},
{"width":305,"height":279,"resolve":{"axis":{"x":"independent","y":"independent"}},"layer":[
 {"data":{"name":"p5b"},"mark":{"type":"line","color":"#1f1fd2","strokeWidth":1.2,"strokeJoin":"round","clip":true},"encoding":{"x":{"field":"x","type":"quantitative","scale":{"domain":[7,12],"nice":false,"zero":false},"axis":{"orient":"bottom","values":[7,8,9,10,11,12],"tickCount":100,"tickSize":-8,"labelExpr":"datum.value == 12 ? '' : datum.value + ''","labelPadding":19,"title":"log(Mₛₜₑₗₗₐᵣ/h⁻¹ M⊙)","titlePadding":4}},"y":{"field":"y","type":"quantitative","scale":{"domain":[-7,3],"nice":false,"zero":false},"axis":{"orient":"left","values":[-6,-4,-2,0,2],"tickCount":100,"tickSize":-9,"labelExpr":"datum.value + ''","labelPadding":16,"title":"log(SFR/M⊙yr⁻¹)","titlePadding":13}},"detail":{"field":"s","type":"nominal"},"order":{"value":null}}},
 {"data":{"name":"p5o"},"mark":{"type":"line","color":"#ff5522","strokeWidth":1.2,"strokeJoin":"round","clip":true},"encoding":{"x":{"field":"x","type":"quantitative","scale":{"domain":[7,12],"nice":false,"zero":false},"axis":{"orient":"bottom","values":[7.1,7.2,7.3,7.4,7.5,7.6,7.7,7.8,7.9,8.1,8.2,8.3,8.4,8.5,8.6,8.7,8.8,8.9,9.1,9.2,9.3,9.4,9.5,9.6,9.7,9.8,9.9,10.1,10.2,10.3,10.4,10.5,10.6,10.7,10.8,10.9,11.1,11.2,11.3,11.4,11.5,11.6,11.7,11.8,11.9],"tickCount":100,"tickSize":-4,"labels":false,"title":null}},"y":{"field":"y","type":"quantitative","scale":{"domain":[-7,3],"nice":false,"zero":false},"axis":{"orient":"left","values":[-6.5,-5.5,-5,-4.5,-3.5,-3,-2.5,-1.5,-1,-0.5,0.5,1,1.5,2.5],"tickCount":100,"tickSize":-4.5,"labels":false,"title":null}},"detail":{"field":"s","type":"nominal"},"order":{"value":null}}},
 {"data":{"values":[{}]},"mark":{"type":"text","text":"Bow06.BR","align":"left","baseline":"alphabetic","font":"Liberation Sans","fontSize":20,"color":"#000"},"encoding":{"x":{"datum":7.3,"type":"quantitative","axis":{"orient":"top","values":[7,8,9,10,11,12],"tickCount":100,"tickSize":-8,"labels":false,"title":null}},"y":{"datum":1.6,"type":"quantitative","axis":{"orient":"right","values":[-6,-4,-2,0,2],"tickCount":100,"tickSize":-9,"labels":false,"title":null}}}},
 {"data":{"values":[{}]},"mark":{"type":"point","opacity":0},"encoding":{"x":{"datum":7.3,"type":"quantitative","axis":{"orient":"top","values":[7.1,7.2,7.3,7.4,7.5,7.6,7.7,7.8,7.9,8.1,8.2,8.3,8.4,8.5,8.6,8.7,8.8,8.9,9.1,9.2,9.3,9.4,9.5,9.6,9.7,9.8,9.9,10.1,10.2,10.3,10.4,10.5,10.6,10.7,10.8,10.9,11.1,11.2,11.3,11.4,11.5,11.6,11.7,11.8,11.9],"tickCount":100,"tickSize":-4,"labels":false,"title":null}},"y":{"datum":1.6,"type":"quantitative","axis":{"orient":"right","values":[-6.5,-5.5,-5,-4.5,-3.5,-3,-2.5,-1.5,-1,-0.5,0.5,1,1.5,2.5],"tickCount":100,"tickSize":-4.5,"labels":false,"title":null}}}}
]},
{"width":305,"height":279,"resolve":{"axis":{"x":"independent","y":"independent"}},"layer":[
 {"data":{"name":"p6b"},"mark":{"type":"line","color":"#1f1fd2","strokeWidth":1.2,"strokeJoin":"round","clip":true},"encoding":{"x":{"field":"x","type":"quantitative","scale":{"domain":[7,12],"nice":false,"zero":false},"axis":{"orient":"bottom","values":[7,8,9,10,11,12],"tickCount":100,"tickSize":-8,"labelExpr":"datum.value + ''","labelPadding":19,"title":"log(Mₛₜₑₗₗₐᵣ/h⁻¹ M⊙)","titlePadding":4}},"y":{"field":"y","type":"quantitative","scale":{"domain":[-7,3],"nice":false,"zero":false},"axis":{"orient":"left","values":[-6,-4,-2,0,2],"tickCount":100,"tickSize":-9,"labels":false,"title":null}},"detail":{"field":"s","type":"nominal"},"order":{"value":null}}},
 {"data":{"name":"p6o"},"mark":{"type":"line","color":"#ff5522","strokeWidth":1.2,"strokeJoin":"round","clip":true},"encoding":{"x":{"field":"x","type":"quantitative","scale":{"domain":[7,12],"nice":false,"zero":false},"axis":{"orient":"bottom","values":[7.1,7.2,7.3,7.4,7.5,7.6,7.7,7.8,7.9,8.1,8.2,8.3,8.4,8.5,8.6,8.7,8.8,8.9,9.1,9.2,9.3,9.4,9.5,9.6,9.7,9.8,9.9,10.1,10.2,10.3,10.4,10.5,10.6,10.7,10.8,10.9,11.1,11.2,11.3,11.4,11.5,11.6,11.7,11.8,11.9],"tickCount":100,"tickSize":-4,"labels":false,"title":null}},"y":{"field":"y","type":"quantitative","scale":{"domain":[-7,3],"nice":false,"zero":false},"axis":{"orient":"left","values":[-6.5,-5.5,-5,-4.5,-3.5,-3,-2.5,-1.5,-1,-0.5,0.5,1,1.5,2.5],"tickCount":100,"tickSize":-4.5,"labels":false,"title":null}},"detail":{"field":"s","type":"nominal"},"order":{"value":null}}},
 {"data":{"values":[{}]},"mark":{"type":"text","text":"Bow06.BR.nonlin","align":"left","baseline":"alphabetic","font":"Liberation Sans","fontSize":20,"color":"#000"},"encoding":{"x":{"datum":7.3,"type":"quantitative","axis":{"orient":"top","values":[7,8,9,10,11,12],"tickCount":100,"tickSize":-8,"labels":false,"title":null}},"y":{"datum":1.6,"type":"quantitative","axis":{"orient":"right","values":[-6,-4,-2,0,2],"tickCount":100,"tickSize":-9,"labels":false,"title":null}}}},
 {"data":{"values":[{}]},"mark":{"type":"point","opacity":0},"encoding":{"x":{"datum":7.3,"type":"quantitative","axis":{"orient":"top","values":[7.1,7.2,7.3,7.4,7.5,7.6,7.7,7.8,7.9,8.1,8.2,8.3,8.4,8.5,8.6,8.7,8.8,8.9,9.1,9.2,9.3,9.4,9.5,9.6,9.7,9.8,9.9,10.1,10.2,10.3,10.4,10.5,10.6,10.7,10.8,10.9,11.1,11.2,11.3,11.4,11.5,11.6,11.7,11.8,11.9],"tickCount":100,"tickSize":-4,"labels":false,"title":null}},"y":{"datum":1.6,"type":"quantitative","axis":{"orient":"right","values":[-6.5,-5.5,-5,-4.5,-3.5,-3,-2.5,-1.5,-1,-0.5,0.5,1,1.5,2.5],"tickCount":100,"tickSize":-4.5,"labels":false,"title":null}}}}
]}
]
}
